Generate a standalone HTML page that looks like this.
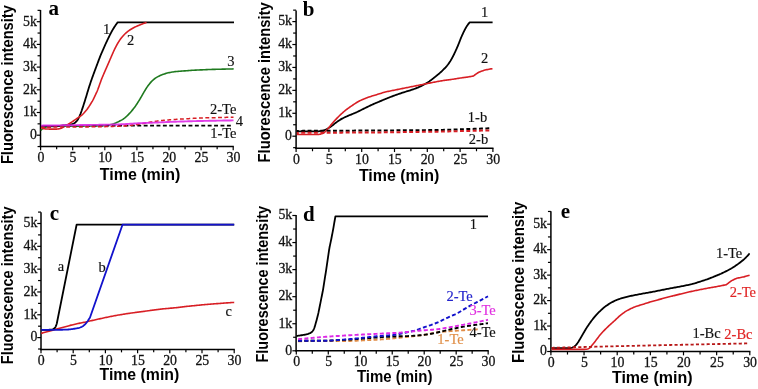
<!DOCTYPE html>
<html><head><meta charset="utf-8"><title>Fluorescence figure</title>
<style>html,body{margin:0;padding:0;background:#fff;width:758px;height:389px;overflow:hidden}svg{display:block;will-change:transform;filter:blur(0.4px)}</style>
</head><body>
<svg width="758" height="389" viewBox="0 0 758 389">
<rect width="758" height="389" fill="#fff"/>
<line x1="40.5" y1="10" x2="40.5" y2="147.15" stroke="#000" stroke-width="1.5"/>
<line x1="39.75" y1="146.4" x2="233.79999999999998" y2="146.4" stroke="#000" stroke-width="1.5"/>
<line x1="40.60" y1="146.4" x2="40.60" y2="150.15" stroke="#000" stroke-width="1.2"/>
<text transform="translate(40.90,161.50) scale(0.91,1)" x="0" y="0" font-family='"Liberation Serif", serif' font-size="15.2" fill="#111" stroke="#111" stroke-width="0.3" text-anchor="middle">0</text>
<line x1="56.65" y1="146.4" x2="56.65" y2="149.35" stroke="#000" stroke-width="1.2"/>
<line x1="72.70" y1="146.4" x2="72.70" y2="150.15" stroke="#000" stroke-width="1.2"/>
<text transform="translate(73.00,161.50) scale(0.91,1)" x="0" y="0" font-family='"Liberation Serif", serif' font-size="15.2" fill="#111" stroke="#111" stroke-width="0.3" text-anchor="middle">5</text>
<line x1="88.75" y1="146.4" x2="88.75" y2="149.35" stroke="#000" stroke-width="1.2"/>
<line x1="104.80" y1="146.4" x2="104.80" y2="150.15" stroke="#000" stroke-width="1.2"/>
<text transform="translate(105.10,161.50) scale(0.91,1)" x="0" y="0" font-family='"Liberation Serif", serif' font-size="15.2" fill="#111" stroke="#111" stroke-width="0.3" text-anchor="middle">10</text>
<line x1="120.85" y1="146.4" x2="120.85" y2="149.35" stroke="#000" stroke-width="1.2"/>
<line x1="136.90" y1="146.4" x2="136.90" y2="150.15" stroke="#000" stroke-width="1.2"/>
<text transform="translate(137.20,161.50) scale(0.91,1)" x="0" y="0" font-family='"Liberation Serif", serif' font-size="15.2" fill="#111" stroke="#111" stroke-width="0.3" text-anchor="middle">15</text>
<line x1="152.95" y1="146.4" x2="152.95" y2="149.35" stroke="#000" stroke-width="1.2"/>
<line x1="169.00" y1="146.4" x2="169.00" y2="150.15" stroke="#000" stroke-width="1.2"/>
<text transform="translate(169.30,161.50) scale(0.91,1)" x="0" y="0" font-family='"Liberation Serif", serif' font-size="15.2" fill="#111" stroke="#111" stroke-width="0.3" text-anchor="middle">20</text>
<line x1="185.05" y1="146.4" x2="185.05" y2="149.35" stroke="#000" stroke-width="1.2"/>
<line x1="201.10" y1="146.4" x2="201.10" y2="150.15" stroke="#000" stroke-width="1.2"/>
<text transform="translate(201.40,161.50) scale(0.91,1)" x="0" y="0" font-family='"Liberation Serif", serif' font-size="15.2" fill="#111" stroke="#111" stroke-width="0.3" text-anchor="middle">25</text>
<line x1="217.15" y1="146.4" x2="217.15" y2="149.35" stroke="#000" stroke-width="1.2"/>
<line x1="233.20" y1="146.4" x2="233.20" y2="150.15" stroke="#000" stroke-width="1.2"/>
<text transform="translate(233.50,161.50) scale(0.91,1)" x="0" y="0" font-family='"Liberation Serif", serif' font-size="15.2" fill="#111" stroke="#111" stroke-width="0.3" text-anchor="middle">30</text>
<line x1="37.55" y1="146.55" x2="40.5" y2="146.55" stroke="#000" stroke-width="1.2"/>
<line x1="36.75" y1="135.20" x2="40.5" y2="135.20" stroke="#000" stroke-width="1.2"/>
<text transform="translate(36.80,139.00) scale(0.91,1)" x="0" y="0" font-family='"Liberation Serif", serif' font-size="15.2" fill="#111" stroke="#111" stroke-width="0.3" text-anchor="end">0</text>
<line x1="37.55" y1="123.85" x2="40.5" y2="123.85" stroke="#000" stroke-width="1.2"/>
<line x1="36.75" y1="112.50" x2="40.5" y2="112.50" stroke="#000" stroke-width="1.2"/>
<text transform="translate(36.80,116.30) scale(0.91,1)" x="0" y="0" font-family='"Liberation Serif", serif' font-size="15.2" fill="#111" stroke="#111" stroke-width="0.3" text-anchor="end">1k</text>
<line x1="37.55" y1="101.15" x2="40.5" y2="101.15" stroke="#000" stroke-width="1.2"/>
<line x1="36.75" y1="89.80" x2="40.5" y2="89.80" stroke="#000" stroke-width="1.2"/>
<text transform="translate(36.80,93.60) scale(0.91,1)" x="0" y="0" font-family='"Liberation Serif", serif' font-size="15.2" fill="#111" stroke="#111" stroke-width="0.3" text-anchor="end">2k</text>
<line x1="37.55" y1="78.45" x2="40.5" y2="78.45" stroke="#000" stroke-width="1.2"/>
<line x1="36.75" y1="67.10" x2="40.5" y2="67.10" stroke="#000" stroke-width="1.2"/>
<text transform="translate(36.80,70.90) scale(0.91,1)" x="0" y="0" font-family='"Liberation Serif", serif' font-size="15.2" fill="#111" stroke="#111" stroke-width="0.3" text-anchor="end">3k</text>
<line x1="37.55" y1="55.75" x2="40.5" y2="55.75" stroke="#000" stroke-width="1.2"/>
<line x1="36.75" y1="44.40" x2="40.5" y2="44.40" stroke="#000" stroke-width="1.2"/>
<text transform="translate(36.80,48.20) scale(0.91,1)" x="0" y="0" font-family='"Liberation Serif", serif' font-size="15.2" fill="#111" stroke="#111" stroke-width="0.3" text-anchor="end">4k</text>
<line x1="37.55" y1="33.05" x2="40.5" y2="33.05" stroke="#000" stroke-width="1.2"/>
<line x1="36.75" y1="21.70" x2="40.5" y2="21.70" stroke="#000" stroke-width="1.2"/>
<text transform="translate(36.80,25.50) scale(0.91,1)" x="0" y="0" font-family='"Liberation Serif", serif' font-size="15.2" fill="#111" stroke="#111" stroke-width="0.3" text-anchor="end">5k</text>
<line x1="37.55" y1="10.35" x2="40.5" y2="10.35" stroke="#000" stroke-width="1.2"/>
<text x="48.5" y="15.4" font-family='"Liberation Serif", serif' font-size="21" font-weight="bold" fill="#000" text-anchor="start" >a</text>
<text x="99.8" y="180.1" font-family='"Liberation Sans", sans-serif' font-size="16.5" font-weight="bold" fill="#000" textLength="80.5" lengthAdjust="spacingAndGlyphs">Time (min)</text>
<text transform="translate(13.3,164.1) rotate(-90)" x="0" y="0" font-family='"Liberation Sans", sans-serif' font-size="16.5" font-weight="bold" fill="#000" textLength="159" lengthAdjust="spacingAndGlyphs">Fluorescence intensity</text>
<path d="M40.80,130.50 41.42,129.74 42.07,129.02 42.80,128.40 43.61,127.88 44.49,127.48 45.42,127.18 46.39,126.96 47.37,126.80 48.37,126.68 49.37,126.59 50.38,126.53 51.39,126.48 52.39,126.44 53.40,126.40 54.41,126.37 55.42,126.34 56.43,126.31 57.44,126.29 58.45,126.27 59.46,126.26 60.47,126.24 61.48,126.23 62.49,126.22 63.50,126.21 64.00,126.20" fill="none" stroke="#1f7a1f" stroke-width="1.6" stroke-linejoin="round" />
<path d="M41.00,126.00 42.00,126.00 43.00,126.00 44.01,126.00 45.01,126.00 46.01,126.00 47.01,126.00 48.02,126.00 49.02,126.00 50.02,126.00 51.02,126.00 52.03,126.00 53.03,126.00 54.03,126.00 55.03,125.99 56.04,125.98 57.04,125.96 58.04,125.92 59.04,125.86 60.04,125.79 61.03,125.70 62.03,125.60 63.03,125.51 64.03,125.41 65.02,125.30 66.02,125.19 67.01,125.08 68.01,124.95 69.00,124.82 69.98,124.66 70.96,124.46 71.91,124.21 72.83,123.88 73.72,123.47 74.56,122.97 75.35,122.40 76.08,121.75 76.74,121.03 77.35,120.26 77.90,119.43 78.40,118.58 78.86,117.70 79.29,116.79 79.68,115.88 80.06,114.95 80.43,114.02 80.78,113.08 81.13,112.14 81.46,111.19 81.80,110.25 82.12,109.30 82.45,108.35 82.77,107.40 83.09,106.45 83.40,105.50 83.71,104.55 84.01,103.59 84.31,102.63 84.61,101.68 84.91,100.72 85.21,99.76 85.50,98.81 85.80,97.85 86.09,96.89 86.38,95.93 86.67,94.97 86.95,94.01 87.24,93.05 87.53,92.09 87.82,91.13 88.11,90.17 88.40,89.21 88.70,88.25 89.01,87.30 89.31,86.35 89.63,85.39 89.94,84.44 90.25,83.49 90.57,82.54 90.88,81.59 91.20,80.64 91.53,79.69 91.86,78.74 92.20,77.80 92.54,76.86 92.89,75.92 93.23,74.97 93.57,74.03 93.92,73.09 94.27,72.15 94.61,71.21 94.96,70.27 95.31,69.33 95.66,68.39 96.01,67.45 96.36,66.51 96.71,65.57 97.06,64.64 97.42,63.70 97.77,62.76 98.12,61.82 98.47,60.88 98.83,59.94 99.18,59.01 99.54,58.07 99.90,57.13 100.27,56.20 100.65,55.27 101.03,54.35 101.43,53.43 101.83,52.51 102.24,51.60 102.64,50.68 103.04,49.76 103.44,48.84 103.84,47.92 104.24,47.00 104.64,46.08 105.04,45.17 105.46,44.25 105.87,43.34 106.30,42.43 106.73,41.53 107.16,40.62 107.59,39.72 108.02,38.81 108.46,37.91 108.90,37.01 109.35,36.11 109.79,35.22 110.24,34.32 110.70,33.43 111.16,32.54 111.64,31.66 112.12,30.78 112.62,29.91 113.13,29.05 113.65,28.19 114.18,27.34 114.72,26.50 115.28,25.67 115.85,24.84 116.43,24.03 117.01,23.21 117.60,22.40 234.00,22.40" fill="none" stroke="#000" stroke-width="1.8" stroke-linejoin="round" />
<path d="M41.50,128.20 42.47,128.42 43.45,128.62 44.43,128.77 45.42,128.89 46.42,128.97 47.42,129.02 48.42,129.06 49.42,129.10 50.43,129.13 51.43,129.15 52.43,129.16 53.43,129.16 54.44,129.15 55.44,129.13 56.44,129.09 57.43,129.02 58.42,128.91 59.40,128.74 60.35,128.50 61.29,128.18 62.19,127.80 63.08,127.35 63.96,126.87 64.83,126.38 65.69,125.87 66.55,125.35 67.41,124.83 68.26,124.30 69.11,123.77 69.96,123.23 70.80,122.69 71.64,122.13 72.47,121.58 73.30,121.01 74.12,120.44 74.95,119.88 75.78,119.31 76.60,118.74 77.43,118.18 78.26,117.62 79.09,117.05 79.92,116.49 80.74,115.91 81.53,115.31 82.29,114.67 83.02,114.00 83.72,113.28 84.38,112.54 85.04,111.78 85.68,111.01 86.32,110.24 86.94,109.46 87.54,108.66 88.13,107.84 88.69,107.02 89.23,106.18 89.77,105.33 90.30,104.48 90.83,103.63 91.35,102.77 91.87,101.91 92.38,101.05 92.86,100.17 93.33,99.29 93.78,98.39 94.21,97.49 94.64,96.58 95.07,95.68 95.50,94.77 95.92,93.86 96.34,92.95 96.76,92.04 97.16,91.12 97.54,90.19 97.91,89.26 98.26,88.32 98.61,87.38 98.95,86.44 99.28,85.49 99.62,84.55 99.96,83.60 100.29,82.66 100.63,81.71 100.97,80.77 101.32,79.83 101.68,78.90 102.05,77.97 102.44,77.04 102.83,76.12 103.22,75.19 103.62,74.27 104.02,73.35 104.42,72.43 104.82,71.51 105.22,70.59 105.62,69.67 106.02,68.76 106.43,67.84 106.83,66.92 107.23,66.00 107.63,65.08 108.04,64.16 108.44,63.24 108.84,62.33 109.24,61.41 109.64,60.48 110.03,59.56 110.43,58.64 110.83,57.72 111.23,56.80 111.62,55.88 112.02,54.96 112.43,54.04 112.83,53.12 113.24,52.21 113.65,51.29 114.07,50.38 114.49,49.47 114.93,48.57 115.38,47.67 115.83,46.78 116.30,45.89 116.77,45.01 117.26,44.14 117.77,43.27 118.28,42.41 118.81,41.56 119.35,40.72 119.92,39.89 120.50,39.08 121.10,38.27 121.71,37.48 122.35,36.71 123.01,35.96 123.68,35.22 124.38,34.50 125.10,33.80 125.83,33.12 126.58,32.46 127.35,31.82 128.14,31.20 128.94,30.60 129.76,30.03 130.59,29.48 131.44,28.95 132.31,28.44 133.18,27.95 134.07,27.49 134.97,27.05 135.88,26.64 136.80,26.24 137.72,25.85 138.65,25.47 139.58,25.09 140.51,24.71 141.44,24.34 142.37,23.97 143.31,23.61 144.24,23.26 145.19,22.91 146.13,22.57 146.60,22.40" fill="none" stroke="#d81e24" stroke-width="1.6" stroke-linejoin="round" />
<path d="M60.00,126.20 61.00,126.19 62.00,126.19 63.00,126.18 64.00,126.18 65.01,126.17 66.01,126.17 67.01,126.16 68.01,126.16 69.01,126.15 70.01,126.15 71.01,126.14 72.01,126.14 73.01,126.13 74.01,126.13 75.02,126.12 76.02,126.12 77.02,126.11 78.02,126.11 79.02,126.10 80.02,126.09 81.02,126.08 82.02,126.07 83.02,126.05 84.02,126.04 85.03,126.02 86.03,126.01 87.03,125.99 88.03,125.98 89.03,125.96 90.03,125.95 91.03,125.93 92.03,125.92 93.03,125.90 94.03,125.89 95.03,125.87 96.04,125.86 97.04,125.84 98.04,125.82 99.04,125.80 100.04,125.77 101.04,125.73 102.04,125.69 103.04,125.64 104.04,125.58 105.03,125.51 106.03,125.42 107.02,125.30 108.01,125.16 108.99,124.99 109.97,124.79 110.94,124.55 111.90,124.29 112.86,123.99 113.80,123.67 114.74,123.32 115.67,122.95 116.58,122.55 117.49,122.14 118.40,121.71 119.30,121.27 120.18,120.81 121.06,120.33 121.93,119.84 122.78,119.32 123.62,118.78 124.42,118.20 125.20,117.58 125.95,116.92 126.68,116.24 127.40,115.55 128.11,114.84 128.81,114.13 129.50,113.40 130.17,112.67 130.83,111.92 131.48,111.16 132.13,110.39 132.77,109.62 133.40,108.85 134.02,108.06 134.63,107.27 135.21,106.46 135.78,105.63 136.33,104.80 136.88,103.96 137.42,103.12 137.96,102.28 138.50,101.43 139.03,100.59 139.56,99.74 140.08,98.88 140.58,98.02 141.08,97.15 141.58,96.28 142.07,95.41 142.56,94.54 143.06,93.67 143.56,92.80 144.06,91.94 144.58,91.08 145.10,90.23 145.63,89.38 146.17,88.53 146.71,87.69 147.25,86.85 147.82,86.03 148.40,85.22 149.01,84.43 149.64,83.65 150.28,82.89 150.94,82.14 151.62,81.40 152.32,80.70 153.05,80.02 153.81,79.37 154.59,78.75 155.39,78.16 156.21,77.60 157.06,77.08 157.93,76.61 158.83,76.16 159.73,75.73 160.64,75.32 161.56,74.93 162.49,74.57 163.43,74.23 164.38,73.91 165.33,73.62 166.29,73.34 167.26,73.08 168.23,72.83 169.20,72.61 170.18,72.41 171.16,72.23 172.15,72.07 173.14,71.92 174.13,71.78 175.12,71.65 176.12,71.55 177.11,71.45 178.11,71.37 179.11,71.29 180.11,71.21 181.10,71.14 182.10,71.06 183.10,70.99 184.10,70.91 185.10,70.84 186.09,70.76 187.09,70.68 188.09,70.61 189.09,70.53 190.09,70.46 191.09,70.39 192.08,70.32 193.08,70.25 194.08,70.19 195.08,70.14 196.08,70.09 197.08,70.05 198.08,70.00 199.08,69.96 200.08,69.91 201.08,69.87 202.08,69.83 203.08,69.78 204.08,69.74 205.08,69.70 206.08,69.65 207.08,69.61 208.08,69.57 209.08,69.52 210.08,69.48 211.08,69.44 212.08,69.41 213.08,69.38 214.08,69.35 215.09,69.33 216.09,69.30 217.09,69.28 218.09,69.26 219.09,69.23 220.09,69.21 221.09,69.19 222.09,69.17 223.09,69.14 224.09,69.12 225.09,69.10 226.09,69.07 227.09,69.05 228.10,69.03 229.10,69.00 230.10,68.98 231.10,68.96 232.10,68.93 233.10,68.91 233.60,68.90" fill="none" stroke="#1f7a1f" stroke-width="1.6" stroke-linejoin="round" />
<path d="M41.00,125.70 231.00,125.60" fill="none" stroke="#000" stroke-width="1.6" stroke-dasharray="3.9,2.5" stroke-dashoffset="6.10" stroke-linejoin="round" />
<path d="M41.00,127.20 42.00,127.19 43.00,127.19 44.00,127.18 45.00,127.17 46.00,127.17 47.00,127.16 48.00,127.15 49.00,127.15 50.00,127.14 51.00,127.13 52.00,127.13 53.00,127.12 54.00,127.11 55.00,127.11 56.00,127.10 57.00,127.09 58.00,127.08 59.00,127.08 60.00,127.07 61.00,127.06 62.00,127.06 63.00,127.05 64.00,127.04 65.00,127.04 66.01,127.03 67.01,127.02 68.01,127.02 69.01,127.01 70.01,127.00 71.01,127.00 72.01,126.99 73.01,126.98 74.01,126.98 75.01,126.97 76.01,126.96 77.01,126.96 78.01,126.95 79.01,126.94 80.01,126.94 81.01,126.93 82.01,126.92 83.01,126.92 84.01,126.91 85.01,126.90 86.01,126.89 87.01,126.89 88.01,126.88 89.01,126.87 90.01,126.87 91.01,126.86 92.01,126.85 93.01,126.85 94.01,126.84 95.01,126.83 96.01,126.83 97.01,126.82 98.01,126.81 99.01,126.80 100.01,126.78 101.01,126.76 102.01,126.73 103.01,126.70 104.01,126.67 105.01,126.64 106.01,126.61 107.01,126.58 108.01,126.54 109.01,126.51 110.01,126.48 111.01,126.45 112.01,126.42 113.01,126.38 114.01,126.35 115.01,126.32 116.01,126.29 117.01,126.26 118.01,126.22 119.01,126.19 120.01,126.16 121.01,126.13 122.01,126.09 123.00,126.05 124.00,126.00 125.00,125.93 126.00,125.85 126.99,125.75 127.98,125.64 128.98,125.52 129.97,125.40 130.96,125.28 131.96,125.17 132.95,125.05 133.94,124.93 134.94,124.81 135.93,124.69 136.92,124.57 137.91,124.44 138.90,124.30 139.89,124.15 140.88,123.99 141.86,123.81 142.84,123.63 143.83,123.43 144.81,123.24 145.79,123.04 146.77,122.85 147.75,122.65 148.73,122.47 149.72,122.28 150.70,122.11 151.69,121.94 152.67,121.78 153.66,121.62 154.65,121.46 155.63,121.30 156.62,121.14 157.61,120.99 158.60,120.85 159.59,120.71 160.58,120.60 161.58,120.49 162.57,120.40 163.57,120.32 164.57,120.24 165.56,120.15 166.56,120.08 167.56,120.00 168.55,119.92 169.55,119.84 170.55,119.76 171.55,119.68 172.54,119.60 173.54,119.52 174.54,119.45 175.54,119.38 176.53,119.32 177.53,119.26 178.53,119.20 179.53,119.15 180.53,119.09 181.53,119.03 182.53,118.98 183.52,118.92 184.52,118.87 185.52,118.81 186.52,118.75 187.52,118.70 188.52,118.64 189.52,118.59 190.51,118.53 191.51,118.48 192.51,118.42 193.51,118.36 194.51,118.31 195.51,118.25 196.51,118.20 197.51,118.14 198.50,118.09 199.50,118.05 200.50,118.01 201.50,117.97 202.50,117.94 203.50,117.92 204.50,117.89 205.50,117.87 206.50,117.84 207.50,117.82 208.50,117.80 209.50,117.77 210.50,117.75 211.50,117.73 212.50,117.70 213.50,117.68 214.50,117.65 215.50,117.63 216.50,117.61 217.50,117.58 218.50,117.56 219.50,117.53 220.50,117.51 221.50,117.49 222.50,117.46 223.50,117.44 224.50,117.41 225.50,117.39 226.50,117.37 227.50,117.34 228.50,117.32 229.50,117.30 230.50,117.27 231.50,117.25 232.50,117.22 233.50,117.20" fill="none" stroke="#d81e24" stroke-width="1.5" stroke-dasharray="3.9,2.45" stroke-dashoffset="0.23" stroke-linejoin="round" />
<path d="M41.00,125.60 42.00,125.59 43.00,125.57 44.00,125.56 45.00,125.55 46.00,125.53 47.00,125.52 48.00,125.51 49.00,125.49 50.00,125.48 51.00,125.46 52.00,125.45 53.00,125.44 54.01,125.42 55.01,125.41 56.01,125.40 57.01,125.38 58.01,125.37 59.01,125.36 60.01,125.34 61.01,125.33 62.01,125.32 63.01,125.30 64.01,125.29 65.01,125.27 66.01,125.26 67.01,125.25 68.01,125.23 69.01,125.22 70.01,125.21 71.01,125.19 72.01,125.18 73.01,125.17 74.01,125.15 75.01,125.14 76.01,125.13 77.01,125.11 78.01,125.10 79.01,125.08 80.02,125.07 81.02,125.06 82.02,125.04 83.02,125.03 84.02,125.02 85.02,125.00 86.02,124.99 87.02,124.98 88.02,124.96 89.02,124.95 90.02,124.94 91.02,124.92 92.02,124.91 93.02,124.89 94.02,124.88 95.02,124.87 96.02,124.85 97.02,124.84 98.02,124.83 99.02,124.81 100.02,124.79 101.02,124.78 102.02,124.76 103.02,124.74 104.02,124.72 105.02,124.70 106.02,124.68 107.03,124.66 108.03,124.64 109.03,124.62 110.03,124.60 111.03,124.58 112.03,124.56 113.03,124.54 114.03,124.52 115.03,124.50 116.03,124.48 117.03,124.45 118.03,124.43 119.03,124.40 120.03,124.36 121.03,124.31 122.03,124.26 123.02,124.20 124.02,124.14 125.02,124.08 126.02,124.02 127.02,123.96 128.02,123.90 129.02,123.84 130.01,123.78 131.01,123.72 132.01,123.66 133.01,123.60 134.01,123.54 135.01,123.48 136.01,123.42 137.01,123.36 138.00,123.30 139.00,123.25 140.00,123.20 141.00,123.15 142.00,123.11 143.00,123.06 144.00,123.02 145.00,122.98 146.00,122.94 147.00,122.90 148.00,122.86 149.00,122.82 150.00,122.78 151.00,122.74 152.00,122.70 153.00,122.66 154.00,122.62 155.00,122.58 156.00,122.54 157.00,122.50 158.00,122.46 159.00,122.41 159.99,122.37 160.99,122.33 161.99,122.28 162.99,122.24 163.99,122.19 164.99,122.15 165.99,122.10 166.99,122.06 167.99,122.01 168.99,121.97 169.99,121.92 170.99,121.88 171.99,121.84 172.99,121.79 173.99,121.75 174.99,121.71 175.99,121.68 176.99,121.64 177.99,121.61 178.99,121.58 179.99,121.55 180.99,121.52 181.99,121.49 182.99,121.46 183.99,121.43 184.99,121.40 185.99,121.37 186.99,121.34 187.99,121.31 188.99,121.28 189.99,121.25 190.99,121.22 191.99,121.19 192.99,121.16 193.99,121.13 194.99,121.11 195.99,121.08 196.99,121.06 197.99,121.04 198.99,121.02 199.99,121.00 200.99,120.98 201.99,120.96 202.99,120.94 203.99,120.92 204.99,120.90 205.99,120.88 206.99,120.86 207.99,120.84 208.99,120.82 209.99,120.80 210.99,120.78 211.99,120.76 212.99,120.74 213.99,120.72 214.99,120.70 215.99,120.69 216.99,120.67 217.99,120.65 218.99,120.64 220.00,120.62 221.00,120.60 222.00,120.59 223.00,120.57 224.00,120.55 225.00,120.54 226.00,120.52 227.00,120.51 228.00,120.49 229.00,120.47 230.00,120.46 231.00,120.44 232.00,120.42 233.00,120.41 233.50,120.40" fill="none" stroke="#dd28e6" stroke-width="1.9" stroke-linejoin="round" stroke-opacity="0.9"/>
<text x="102.9" y="33.9" font-family='"Liberation Serif", serif' font-size="14.5" font-weight="normal" fill="#111" stroke="#111" stroke-width="0.15" text-anchor="start" >1</text>
<text x="126.9" y="44.5" font-family='"Liberation Serif", serif' font-size="14.5" font-weight="normal" fill="#111" stroke="#111" stroke-width="0.15" text-anchor="start" >2</text>
<text x="227.2" y="65.6" font-family='"Liberation Serif", serif' font-size="14.5" font-weight="normal" fill="#111" stroke="#111" stroke-width="0.15" text-anchor="start" >3</text>
<text x="210.0" y="113.6" font-family='"Liberation Serif", serif' font-size="14.5" font-weight="normal" fill="#111" stroke="#111" stroke-width="0.15" text-anchor="start" >2-Te</text>
<text x="235.8" y="125.9" font-family='"Liberation Serif", serif' font-size="14.5" font-weight="normal" fill="#111" stroke="#111" stroke-width="0.15" text-anchor="start" >4</text>
<text x="210.2" y="138.4" font-family='"Liberation Serif", serif' font-size="14.5" font-weight="normal" fill="#111" stroke="#111" stroke-width="0.15" text-anchor="start" >1-Te</text>
<line x1="296.1" y1="10.5" x2="296.1" y2="149.05" stroke="#000" stroke-width="1.5"/>
<line x1="295.35" y1="148.3" x2="493.5" y2="148.3" stroke="#000" stroke-width="1.5"/>
<line x1="296.10" y1="148.3" x2="296.10" y2="152.05" stroke="#000" stroke-width="1.2"/>
<text transform="translate(296.40,163.80) scale(0.91,1)" x="0" y="0" font-family='"Liberation Serif", serif' font-size="15.2" fill="#111" stroke="#111" stroke-width="0.3" text-anchor="middle">0</text>
<line x1="312.50" y1="148.3" x2="312.50" y2="151.25" stroke="#000" stroke-width="1.2"/>
<line x1="328.90" y1="148.3" x2="328.90" y2="152.05" stroke="#000" stroke-width="1.2"/>
<text transform="translate(329.20,163.80) scale(0.91,1)" x="0" y="0" font-family='"Liberation Serif", serif' font-size="15.2" fill="#111" stroke="#111" stroke-width="0.3" text-anchor="middle">5</text>
<line x1="345.30" y1="148.3" x2="345.30" y2="151.25" stroke="#000" stroke-width="1.2"/>
<line x1="361.70" y1="148.3" x2="361.70" y2="152.05" stroke="#000" stroke-width="1.2"/>
<text transform="translate(362.00,163.80) scale(0.91,1)" x="0" y="0" font-family='"Liberation Serif", serif' font-size="15.2" fill="#111" stroke="#111" stroke-width="0.3" text-anchor="middle">10</text>
<line x1="378.10" y1="148.3" x2="378.10" y2="151.25" stroke="#000" stroke-width="1.2"/>
<line x1="394.50" y1="148.3" x2="394.50" y2="152.05" stroke="#000" stroke-width="1.2"/>
<text transform="translate(394.80,163.80) scale(0.91,1)" x="0" y="0" font-family='"Liberation Serif", serif' font-size="15.2" fill="#111" stroke="#111" stroke-width="0.3" text-anchor="middle">15</text>
<line x1="410.90" y1="148.3" x2="410.90" y2="151.25" stroke="#000" stroke-width="1.2"/>
<line x1="427.30" y1="148.3" x2="427.30" y2="152.05" stroke="#000" stroke-width="1.2"/>
<text transform="translate(427.60,163.80) scale(0.91,1)" x="0" y="0" font-family='"Liberation Serif", serif' font-size="15.2" fill="#111" stroke="#111" stroke-width="0.3" text-anchor="middle">20</text>
<line x1="443.70" y1="148.3" x2="443.70" y2="151.25" stroke="#000" stroke-width="1.2"/>
<line x1="460.10" y1="148.3" x2="460.10" y2="152.05" stroke="#000" stroke-width="1.2"/>
<text transform="translate(460.40,163.80) scale(0.91,1)" x="0" y="0" font-family='"Liberation Serif", serif' font-size="15.2" fill="#111" stroke="#111" stroke-width="0.3" text-anchor="middle">25</text>
<line x1="476.50" y1="148.3" x2="476.50" y2="151.25" stroke="#000" stroke-width="1.2"/>
<line x1="492.90" y1="148.3" x2="492.90" y2="152.05" stroke="#000" stroke-width="1.2"/>
<text transform="translate(493.20,163.80) scale(0.91,1)" x="0" y="0" font-family='"Liberation Serif", serif' font-size="15.2" fill="#111" stroke="#111" stroke-width="0.3" text-anchor="middle">30</text>
<line x1="293.15000000000003" y1="147.66" x2="296.1" y2="147.66" stroke="#000" stroke-width="1.2"/>
<line x1="292.35" y1="136.20" x2="296.1" y2="136.20" stroke="#000" stroke-width="1.2"/>
<text transform="translate(292.00,140.00) scale(0.91,1)" x="0" y="0" font-family='"Liberation Serif", serif' font-size="15.2" fill="#111" stroke="#111" stroke-width="0.3" text-anchor="end">0</text>
<line x1="293.15000000000003" y1="124.74" x2="296.1" y2="124.74" stroke="#000" stroke-width="1.2"/>
<line x1="292.35" y1="113.28" x2="296.1" y2="113.28" stroke="#000" stroke-width="1.2"/>
<text transform="translate(292.00,117.08) scale(0.91,1)" x="0" y="0" font-family='"Liberation Serif", serif' font-size="15.2" fill="#111" stroke="#111" stroke-width="0.3" text-anchor="end">1k</text>
<line x1="293.15000000000003" y1="101.82" x2="296.1" y2="101.82" stroke="#000" stroke-width="1.2"/>
<line x1="292.35" y1="90.36" x2="296.1" y2="90.36" stroke="#000" stroke-width="1.2"/>
<text transform="translate(292.00,94.16) scale(0.91,1)" x="0" y="0" font-family='"Liberation Serif", serif' font-size="15.2" fill="#111" stroke="#111" stroke-width="0.3" text-anchor="end">2k</text>
<line x1="293.15000000000003" y1="78.90" x2="296.1" y2="78.90" stroke="#000" stroke-width="1.2"/>
<line x1="292.35" y1="67.44" x2="296.1" y2="67.44" stroke="#000" stroke-width="1.2"/>
<text transform="translate(292.00,71.24) scale(0.91,1)" x="0" y="0" font-family='"Liberation Serif", serif' font-size="15.2" fill="#111" stroke="#111" stroke-width="0.3" text-anchor="end">3k</text>
<line x1="293.15000000000003" y1="55.98" x2="296.1" y2="55.98" stroke="#000" stroke-width="1.2"/>
<line x1="292.35" y1="44.52" x2="296.1" y2="44.52" stroke="#000" stroke-width="1.2"/>
<text transform="translate(292.00,48.32) scale(0.91,1)" x="0" y="0" font-family='"Liberation Serif", serif' font-size="15.2" fill="#111" stroke="#111" stroke-width="0.3" text-anchor="end">4k</text>
<line x1="293.15000000000003" y1="33.06" x2="296.1" y2="33.06" stroke="#000" stroke-width="1.2"/>
<line x1="292.35" y1="21.60" x2="296.1" y2="21.60" stroke="#000" stroke-width="1.2"/>
<text transform="translate(292.00,25.40) scale(0.91,1)" x="0" y="0" font-family='"Liberation Serif", serif' font-size="15.2" fill="#111" stroke="#111" stroke-width="0.3" text-anchor="end">5k</text>
<line x1="293.15000000000003" y1="10.14" x2="296.1" y2="10.14" stroke="#000" stroke-width="1.2"/>
<text x="302.8" y="16.2" font-family='"Liberation Serif", serif' font-size="21" font-weight="bold" fill="#000" text-anchor="start" >b</text>
<text x="358.9" y="181.1" font-family='"Liberation Sans", sans-serif' font-size="16.5" font-weight="bold" fill="#000" textLength="80.4" lengthAdjust="spacingAndGlyphs">Time (min)</text>
<text transform="translate(270.0,162.4) rotate(-90)" x="0" y="0" font-family='"Liberation Sans", sans-serif' font-size="16.5" font-weight="bold" fill="#000" textLength="160.1" lengthAdjust="spacingAndGlyphs">Fluorescence intensity</text>
<path d="M296.80,131.40 297.80,131.40 298.80,131.40 299.80,131.40 300.80,131.40 301.80,131.40 302.80,131.40 303.80,131.40 304.81,131.40 305.81,131.40 306.81,131.40 307.81,131.40 308.81,131.40 309.81,131.40 310.81,131.40 311.81,131.40 312.81,131.40 313.81,131.40 314.81,131.39 315.81,131.38 316.81,131.36 317.81,131.32 318.80,131.26 319.79,131.17 320.77,131.04 321.74,130.86 322.70,130.63 323.65,130.36 324.58,130.03 325.50,129.66 326.40,129.25 327.29,128.80 328.16,128.32 329.02,127.81 329.86,127.27 330.68,126.72 331.49,126.14 332.28,125.53 333.07,124.92 333.85,124.30 334.63,123.67 335.42,123.06 336.21,122.45 337.01,121.85 337.82,121.27 338.65,120.71 339.48,120.17 340.33,119.64 341.19,119.13 342.06,118.65 342.95,118.18 343.84,117.73 344.74,117.30 345.64,116.87 346.55,116.46 347.47,116.06 348.39,115.67 349.32,115.29 350.24,114.91 351.17,114.54 352.10,114.17 353.03,113.79 353.95,113.41 354.87,113.02 355.79,112.62 356.70,112.21 357.60,111.79 358.50,111.35 359.40,110.91 360.29,110.46 361.19,110.01 362.08,109.56 362.98,109.12 363.87,108.67 364.77,108.22 365.66,107.78 366.56,107.33 367.46,106.89 368.36,106.45 369.26,106.02 370.16,105.59 371.07,105.17 371.98,104.75 372.89,104.34 373.81,103.94 374.72,103.54 375.64,103.14 376.56,102.75 377.49,102.36 378.41,101.97 379.33,101.58 380.25,101.19 381.18,100.81 382.10,100.42 383.02,100.04 383.95,99.65 384.87,99.27 385.80,98.89 386.73,98.52 387.65,98.14 388.58,97.77 389.51,97.40 390.44,97.03 391.37,96.66 392.30,96.30 393.24,95.94 394.18,95.59 395.11,95.25 396.06,94.91 397.00,94.58 397.94,94.25 398.89,93.92 399.84,93.60 400.78,93.28 401.73,92.96 402.68,92.65 403.64,92.34 404.59,92.04 405.55,91.75 406.50,91.45 407.46,91.16 408.42,90.87 409.37,90.57 410.33,90.27 411.28,89.97 412.23,89.65 413.18,89.33 414.12,89.00 415.06,88.66 415.99,88.30 416.92,87.94 417.85,87.56 418.76,87.16 419.67,86.75 420.58,86.32 421.47,85.88 422.37,85.43 423.25,84.96 424.13,84.49 425.01,84.01 425.88,83.51 426.74,83.00 427.59,82.48 428.43,81.94 429.26,81.39 430.07,80.81 430.88,80.22 431.67,79.62 432.46,79.00 433.25,78.38 434.03,77.76 434.81,77.13 435.59,76.50 436.36,75.87 437.13,75.24 437.91,74.60 438.67,73.96 439.43,73.31 440.19,72.65 440.93,71.99 441.67,71.31 442.39,70.62 443.11,69.92 443.81,69.22 444.51,68.50 445.20,67.78 445.88,67.04 446.54,66.29 447.18,65.53 447.80,64.75 448.40,63.95 448.98,63.14 449.54,62.32 450.09,61.49 450.63,60.64 451.14,59.79 451.64,58.92 452.12,58.05 452.58,57.16 453.04,56.27 453.48,55.38 453.92,54.48 454.35,53.58 454.78,52.67 455.20,51.77 455.62,50.86 456.04,49.95 456.45,49.04 456.86,48.12 457.26,47.21 457.66,46.29 458.05,45.37 458.43,44.44 458.80,43.52 459.17,42.59 459.53,41.65 459.89,40.72 460.24,39.78 460.61,38.85 460.98,37.93 461.37,37.00 461.77,36.09 462.17,35.17 462.59,34.27 463.02,33.36 463.45,32.46 463.89,31.56 464.34,30.67 464.79,29.78 465.26,28.89 465.74,28.01 466.23,27.15 466.75,26.30 467.29,25.47 467.86,24.65 468.46,23.86 469.07,23.08 469.70,22.30 492.60,22.30" fill="none" stroke="#000" stroke-width="1.8" stroke-linejoin="round" />
<path d="M296.80,134.50 297.80,134.50 298.80,134.50 299.81,134.50 300.81,134.50 301.81,134.50 302.81,134.50 303.81,134.50 304.82,134.50 305.82,134.50 306.82,134.50 307.82,134.50 308.82,134.50 309.83,134.50 310.83,134.50 311.83,134.50 312.83,134.50 313.83,134.50 314.84,134.49 315.84,134.49 316.84,134.47 317.83,134.43 318.82,134.37 319.80,134.27 320.75,134.10 321.67,133.85 322.56,133.50 323.40,133.05 324.20,132.52 324.95,131.90 325.67,131.23 326.35,130.51 327.00,129.76 327.64,128.99 328.27,128.22 328.89,127.44 329.53,126.66 330.17,125.89 330.81,125.13 331.46,124.36 332.12,123.60 332.77,122.85 333.43,122.09 334.09,121.34 334.76,120.59 335.43,119.85 336.12,119.12 336.81,118.39 337.50,117.67 338.20,116.96 338.91,116.25 339.62,115.55 340.34,114.85 341.07,114.16 341.81,113.49 342.56,112.82 343.31,112.15 344.07,111.50 344.83,110.86 345.61,110.23 346.40,109.62 347.20,109.01 348.01,108.42 348.82,107.84 349.64,107.26 350.46,106.68 351.28,106.11 352.10,105.54 352.93,104.97 353.76,104.41 354.59,103.85 355.43,103.31 356.28,102.79 357.14,102.27 358.01,101.78 358.89,101.30 359.78,100.83 360.67,100.39 361.58,99.96 362.49,99.55 363.41,99.16 364.34,98.78 365.27,98.41 366.20,98.05 367.14,97.70 368.08,97.36 369.03,97.03 369.98,96.70 370.93,96.39 371.88,96.09 372.84,95.80 373.80,95.52 374.76,95.23 375.72,94.94 376.68,94.65 377.63,94.35 378.59,94.05 379.54,93.75 380.50,93.44 381.46,93.14 382.41,92.85 383.37,92.56 384.34,92.29 385.30,92.04 386.28,91.80 387.25,91.58 388.23,91.37 389.21,91.16 390.19,90.96 391.17,90.77 392.16,90.57 393.14,90.37 394.12,90.18 395.10,89.98 396.09,89.78 397.07,89.59 398.05,89.39 399.04,89.19 400.02,89.00 401.00,88.80 401.98,88.60 402.97,88.41 403.95,88.21 404.93,88.01 405.91,87.82 406.90,87.62 407.88,87.42 408.86,87.23 409.84,87.03 410.83,86.83 411.81,86.64 412.79,86.44 413.77,86.25 414.76,86.05 415.74,85.85 416.72,85.66 417.70,85.46 418.69,85.26 419.67,85.07 420.65,84.87 421.63,84.67 422.62,84.48 423.60,84.28 424.58,84.08 425.57,83.89 426.55,83.69 427.53,83.49 428.51,83.30 429.50,83.10 430.48,82.91 431.46,82.71 432.45,82.52 433.43,82.33 434.41,82.13 435.39,81.94 436.38,81.75 437.36,81.56 438.35,81.37 439.33,81.19 440.32,81.01 441.31,80.85 442.29,80.69 443.29,80.55 444.28,80.41 445.27,80.27 446.26,80.14 447.26,80.01 448.25,79.88 449.24,79.75 450.24,79.61 451.23,79.48 452.22,79.33 453.21,79.18 454.20,79.03 455.19,78.87 456.18,78.71 457.17,78.55 458.16,78.39 459.15,78.23 460.14,78.08 461.13,77.93 462.12,77.79 463.11,77.65 464.11,77.52 465.10,77.38 466.09,77.25 467.08,77.10 468.07,76.95 469.06,76.79 470.05,76.62 471.04,76.45 472.02,76.27 473.01,76.09 473.50,76.00 474.29,75.36 475.08,74.74 475.89,74.14 476.72,73.56 477.56,73.02 478.44,72.52 479.33,72.06 480.25,71.65 481.18,71.28 482.13,70.94 483.09,70.64 484.06,70.35 485.04,70.09 486.02,69.84 487.01,69.61 488.00,69.41 488.99,69.22 489.99,69.05 490.99,68.90 492.00,68.77 492.50,68.70" fill="none" stroke="#d81e24" stroke-width="1.6" stroke-linejoin="round" />
<path d="M296.80,130.90 297.80,130.90 298.80,130.89 299.80,130.89 300.80,130.88 301.81,130.88 302.81,130.87 303.81,130.87 304.81,130.86 305.81,130.86 306.81,130.85 307.81,130.85 308.81,130.84 309.82,130.84 310.82,130.83 311.82,130.83 312.82,130.82 313.82,130.82 314.82,130.81 315.82,130.81 316.82,130.80 317.82,130.80 318.83,130.79 319.83,130.79 320.83,130.78 321.83,130.78 322.83,130.77 323.83,130.77 324.83,130.77 325.83,130.76 326.84,130.76 327.84,130.75 328.84,130.75 329.84,130.74 330.84,130.74 331.84,130.73 332.84,130.73 333.84,130.72 334.85,130.72 335.85,130.71 336.85,130.71 337.85,130.70 338.85,130.70 339.85,130.69 340.85,130.69 341.85,130.68 342.85,130.68 343.86,130.67 344.86,130.67 345.86,130.66 346.86,130.66 347.86,130.65 348.86,130.65 349.86,130.64 350.86,130.64 351.87,130.64 352.87,130.63 353.87,130.63 354.87,130.62 355.87,130.62 356.87,130.61 357.87,130.61 358.87,130.60 359.87,130.60 360.88,130.59 361.88,130.59 362.88,130.58 363.88,130.58 364.88,130.57 365.88,130.57 366.88,130.56 367.88,130.56 368.89,130.55 369.89,130.55 370.89,130.54 371.89,130.54 372.89,130.53 373.89,130.53 374.89,130.52 375.89,130.52 376.90,130.51 377.90,130.51 378.90,130.50 379.90,130.50 380.90,130.49 381.90,130.48 382.90,130.48 383.90,130.47 384.90,130.46 385.91,130.45 386.91,130.44 387.91,130.43 388.91,130.43 389.91,130.42 390.91,130.41 391.91,130.40 392.91,130.39 393.92,130.38 394.92,130.38 395.92,130.37 396.92,130.36 397.92,130.35 398.92,130.34 399.92,130.33 400.92,130.33 401.92,130.32 402.93,130.31 403.93,130.30 404.93,130.29 405.93,130.28 406.93,130.28 407.93,130.27 408.93,130.26 409.93,130.25 410.93,130.24 411.94,130.23 412.94,130.23 413.94,130.22 414.94,130.21 415.94,130.20 416.94,130.19 417.94,130.18 418.94,130.18 419.95,130.17 420.95,130.16 421.95,130.15 422.95,130.14 423.95,130.13 424.95,130.13 425.95,130.12 426.95,130.11 427.95,130.10 428.96,130.09 429.96,130.08 430.96,130.08 431.96,130.07 432.96,130.06 433.96,130.05 434.96,130.04 435.96,130.03 436.97,130.02 437.97,130.01 438.97,130.00 439.97,129.98 440.97,129.96 441.97,129.93 442.97,129.90 443.97,129.86 444.97,129.83 445.97,129.80 446.97,129.76 447.97,129.73 448.97,129.69 449.98,129.66 450.98,129.63 451.98,129.59 452.98,129.56 453.98,129.52 454.98,129.49 455.98,129.46 456.98,129.42 457.98,129.39 458.98,129.35 459.98,129.32 460.98,129.29 461.98,129.25 462.98,129.22 463.98,129.18 464.98,129.15 465.99,129.12 466.99,129.08 467.99,129.05 468.99,129.01 469.99,128.98 470.99,128.95 471.99,128.91 472.99,128.88 473.99,128.84 474.99,128.81 475.99,128.78 476.99,128.74 477.99,128.71 478.99,128.67 479.99,128.64 480.99,128.61 482.00,128.57 483.00,128.54 484.00,128.50 485.00,128.47 486.00,128.44 487.00,128.40 488.00,128.37 489.00,128.33 490.00,128.30" fill="none" stroke="#000" stroke-width="2.0" stroke-dasharray="3.9,2.45" stroke-dashoffset="1.89" stroke-linejoin="round" />
<path d="M296.80,132.90 297.80,132.89 298.80,132.89 299.80,132.88 300.80,132.88 301.81,132.87 302.81,132.86 303.81,132.86 304.81,132.85 305.81,132.85 306.81,132.84 307.81,132.83 308.81,132.83 309.81,132.82 310.82,132.82 311.82,132.81 312.82,132.80 313.82,132.80 314.82,132.79 315.82,132.79 316.82,132.78 317.82,132.77 318.82,132.77 319.83,132.76 320.83,132.76 321.83,132.75 322.83,132.74 323.83,132.74 324.83,132.73 325.83,132.73 326.83,132.72 327.83,132.71 328.84,132.71 329.84,132.70 330.84,132.70 331.84,132.69 332.84,132.68 333.84,132.68 334.84,132.67 335.84,132.67 336.85,132.66 337.85,132.65 338.85,132.65 339.85,132.64 340.85,132.64 341.85,132.63 342.85,132.62 343.85,132.62 344.85,132.61 345.86,132.61 346.86,132.60 347.86,132.59 348.86,132.59 349.86,132.58 350.86,132.58 351.86,132.57 352.86,132.56 353.86,132.56 354.87,132.55 355.87,132.55 356.87,132.54 357.87,132.53 358.87,132.53 359.87,132.52 360.87,132.51 361.87,132.51 362.87,132.50 363.88,132.50 364.88,132.49 365.88,132.48 366.88,132.48 367.88,132.47 368.88,132.47 369.88,132.46 370.88,132.45 371.88,132.45 372.89,132.44 373.89,132.44 374.89,132.43 375.89,132.42 376.89,132.42 377.89,132.41 378.89,132.40 379.89,132.40 380.89,132.38 381.90,132.37 382.90,132.36 383.90,132.35 384.90,132.33 385.90,132.32 386.90,132.31 387.90,132.29 388.90,132.28 389.90,132.27 390.91,132.25 391.91,132.24 392.91,132.23 393.91,132.21 394.91,132.20 395.91,132.19 396.91,132.17 397.91,132.16 398.91,132.15 399.91,132.13 400.92,132.12 401.92,132.11 402.92,132.09 403.92,132.08 404.92,132.07 405.92,132.05 406.92,132.04 407.92,132.03 408.92,132.01 409.93,132.00 410.93,131.99 411.93,131.97 412.93,131.96 413.93,131.95 414.93,131.93 415.93,131.92 416.93,131.91 417.93,131.89 418.93,131.88 419.94,131.87 420.94,131.85 421.94,131.84 422.94,131.83 423.94,131.81 424.94,131.80 425.94,131.79 426.94,131.77 427.94,131.76 428.95,131.75 429.95,131.73 430.95,131.72 431.95,131.71 432.95,131.69 433.95,131.68 434.95,131.67 435.95,131.65 436.95,131.64 437.95,131.63 438.96,131.61 439.96,131.59 440.96,131.57 441.96,131.55 442.96,131.53 443.96,131.50 444.96,131.48 445.96,131.46 446.96,131.43 447.96,131.41 448.96,131.38 449.97,131.36 450.97,131.34 451.97,131.31 452.97,131.29 453.97,131.26 454.97,131.24 455.97,131.22 456.97,131.19 457.97,131.17 458.97,131.14 459.97,131.12 460.98,131.10 461.98,131.07 462.98,131.05 463.98,131.02 464.98,131.00 465.98,130.98 466.98,130.95 467.98,130.93 468.98,130.90 469.98,130.88 470.98,130.86 471.98,130.83 472.99,130.81 473.99,130.78 474.99,130.76 475.99,130.74 476.99,130.71 477.99,130.69 478.99,130.66 479.99,130.64 480.99,130.62 481.99,130.59 482.99,130.57 483.99,130.54 485.00,130.52 486.00,130.50 487.00,130.47 488.00,130.45 489.00,130.42 490.00,130.40" fill="none" stroke="#d81e24" stroke-width="2.0" stroke-dasharray="3.9,2.45" stroke-dashoffset="1.89" stroke-linejoin="round" />
<text x="480.9" y="16.9" font-family='"Liberation Serif", serif' font-size="14.5" font-weight="normal" fill="#111" stroke="#111" stroke-width="0.15" text-anchor="start" >1</text>
<text x="480.9" y="62.7" font-family='"Liberation Serif", serif' font-size="14.5" font-weight="normal" fill="#111" stroke="#111" stroke-width="0.15" text-anchor="start" >2</text>
<text x="467.8" y="121.8" font-family='"Liberation Serif", serif' font-size="14.5" font-weight="normal" fill="#111" stroke="#111" stroke-width="0.15" text-anchor="start" >1-b</text>
<text x="468.8" y="143.9" font-family='"Liberation Serif", serif' font-size="14.5" font-weight="normal" fill="#111" stroke="#111" stroke-width="0.15" text-anchor="start" >2-b</text>
<line x1="41.0" y1="212.3" x2="41.0" y2="350.15" stroke="#000" stroke-width="1.5"/>
<line x1="40.25" y1="349.4" x2="234.8" y2="349.4" stroke="#000" stroke-width="1.5"/>
<line x1="41.00" y1="349.4" x2="41.00" y2="353.15" stroke="#000" stroke-width="1.2"/>
<text transform="translate(41.30,364.80) scale(0.91,1)" x="0" y="0" font-family='"Liberation Serif", serif' font-size="15.2" fill="#111" stroke="#111" stroke-width="0.3" text-anchor="middle">0</text>
<line x1="57.10" y1="349.4" x2="57.10" y2="352.34999999999997" stroke="#000" stroke-width="1.2"/>
<line x1="73.20" y1="349.4" x2="73.20" y2="353.15" stroke="#000" stroke-width="1.2"/>
<text transform="translate(73.50,364.80) scale(0.91,1)" x="0" y="0" font-family='"Liberation Serif", serif' font-size="15.2" fill="#111" stroke="#111" stroke-width="0.3" text-anchor="middle">5</text>
<line x1="89.30" y1="349.4" x2="89.30" y2="352.34999999999997" stroke="#000" stroke-width="1.2"/>
<line x1="105.40" y1="349.4" x2="105.40" y2="353.15" stroke="#000" stroke-width="1.2"/>
<text transform="translate(105.70,364.80) scale(0.91,1)" x="0" y="0" font-family='"Liberation Serif", serif' font-size="15.2" fill="#111" stroke="#111" stroke-width="0.3" text-anchor="middle">10</text>
<line x1="121.50" y1="349.4" x2="121.50" y2="352.34999999999997" stroke="#000" stroke-width="1.2"/>
<line x1="137.60" y1="349.4" x2="137.60" y2="353.15" stroke="#000" stroke-width="1.2"/>
<text transform="translate(137.90,364.80) scale(0.91,1)" x="0" y="0" font-family='"Liberation Serif", serif' font-size="15.2" fill="#111" stroke="#111" stroke-width="0.3" text-anchor="middle">15</text>
<line x1="153.70" y1="349.4" x2="153.70" y2="352.34999999999997" stroke="#000" stroke-width="1.2"/>
<line x1="169.80" y1="349.4" x2="169.80" y2="353.15" stroke="#000" stroke-width="1.2"/>
<text transform="translate(170.10,364.80) scale(0.91,1)" x="0" y="0" font-family='"Liberation Serif", serif' font-size="15.2" fill="#111" stroke="#111" stroke-width="0.3" text-anchor="middle">20</text>
<line x1="185.90" y1="349.4" x2="185.90" y2="352.34999999999997" stroke="#000" stroke-width="1.2"/>
<line x1="202.00" y1="349.4" x2="202.00" y2="353.15" stroke="#000" stroke-width="1.2"/>
<text transform="translate(202.30,364.80) scale(0.91,1)" x="0" y="0" font-family='"Liberation Serif", serif' font-size="15.2" fill="#111" stroke="#111" stroke-width="0.3" text-anchor="middle">25</text>
<line x1="218.10" y1="349.4" x2="218.10" y2="352.34999999999997" stroke="#000" stroke-width="1.2"/>
<line x1="234.20" y1="349.4" x2="234.20" y2="353.15" stroke="#000" stroke-width="1.2"/>
<text transform="translate(234.50,364.80) scale(0.91,1)" x="0" y="0" font-family='"Liberation Serif", serif' font-size="15.2" fill="#111" stroke="#111" stroke-width="0.3" text-anchor="middle">30</text>
<line x1="38.05" y1="349.01" x2="41.0" y2="349.01" stroke="#000" stroke-width="1.2"/>
<line x1="37.25" y1="337.60" x2="41.0" y2="337.60" stroke="#000" stroke-width="1.2"/>
<text transform="translate(37.30,341.40) scale(0.91,1)" x="0" y="0" font-family='"Liberation Serif", serif' font-size="15.2" fill="#111" stroke="#111" stroke-width="0.3" text-anchor="end">0</text>
<line x1="38.05" y1="326.19" x2="41.0" y2="326.19" stroke="#000" stroke-width="1.2"/>
<line x1="37.25" y1="314.78" x2="41.0" y2="314.78" stroke="#000" stroke-width="1.2"/>
<text transform="translate(37.30,318.58) scale(0.91,1)" x="0" y="0" font-family='"Liberation Serif", serif' font-size="15.2" fill="#111" stroke="#111" stroke-width="0.3" text-anchor="end">1k</text>
<line x1="38.05" y1="303.37" x2="41.0" y2="303.37" stroke="#000" stroke-width="1.2"/>
<line x1="37.25" y1="291.96" x2="41.0" y2="291.96" stroke="#000" stroke-width="1.2"/>
<text transform="translate(37.30,295.76) scale(0.91,1)" x="0" y="0" font-family='"Liberation Serif", serif' font-size="15.2" fill="#111" stroke="#111" stroke-width="0.3" text-anchor="end">2k</text>
<line x1="38.05" y1="280.55" x2="41.0" y2="280.55" stroke="#000" stroke-width="1.2"/>
<line x1="37.25" y1="269.14" x2="41.0" y2="269.14" stroke="#000" stroke-width="1.2"/>
<text transform="translate(37.30,272.94) scale(0.91,1)" x="0" y="0" font-family='"Liberation Serif", serif' font-size="15.2" fill="#111" stroke="#111" stroke-width="0.3" text-anchor="end">3k</text>
<line x1="38.05" y1="257.73" x2="41.0" y2="257.73" stroke="#000" stroke-width="1.2"/>
<line x1="37.25" y1="246.32" x2="41.0" y2="246.32" stroke="#000" stroke-width="1.2"/>
<text transform="translate(37.30,250.12) scale(0.91,1)" x="0" y="0" font-family='"Liberation Serif", serif' font-size="15.2" fill="#111" stroke="#111" stroke-width="0.3" text-anchor="end">4k</text>
<line x1="38.05" y1="234.91" x2="41.0" y2="234.91" stroke="#000" stroke-width="1.2"/>
<line x1="37.25" y1="223.50" x2="41.0" y2="223.50" stroke="#000" stroke-width="1.2"/>
<text transform="translate(37.30,227.30) scale(0.91,1)" x="0" y="0" font-family='"Liberation Serif", serif' font-size="15.2" fill="#111" stroke="#111" stroke-width="0.3" text-anchor="end">5k</text>
<line x1="38.05" y1="212.09" x2="41.0" y2="212.09" stroke="#000" stroke-width="1.2"/>
<text x="49.8" y="219.7" font-family='"Liberation Serif", serif' font-size="21" font-weight="bold" fill="#000" text-anchor="start" >c</text>
<text x="99.5" y="379.9" font-family='"Liberation Sans", sans-serif' font-size="16.5" font-weight="bold" fill="#000" textLength="79.8" lengthAdjust="spacingAndGlyphs">Time (min)</text>
<text transform="translate(12.9,364.2) rotate(-90)" x="0" y="0" font-family='"Liberation Sans", sans-serif' font-size="16.5" font-weight="bold" fill="#000" textLength="157.7" lengthAdjust="spacingAndGlyphs">Fluorescence intensity</text>
<path d="M41.20,333.40 42.16,333.12 43.13,332.85 44.09,332.57 45.05,332.30 46.02,332.02 46.98,331.75 47.95,331.47 48.91,331.20 49.87,330.93 50.84,330.66 51.81,330.39 52.77,330.13 53.74,329.87 54.71,329.60 55.67,329.34 56.64,329.08 57.61,328.81 58.57,328.55 59.54,328.29 60.51,328.02 61.48,327.76 62.44,327.49 63.41,327.23 64.38,326.96 65.34,326.70 66.31,326.43 67.27,326.17 68.24,325.91 69.21,325.65 70.18,325.39 71.15,325.15 72.12,324.91 73.10,324.68 74.08,324.45 75.05,324.23 76.03,324.01 77.01,323.79 77.98,323.57 78.96,323.35 79.94,323.14 80.92,322.94 81.91,322.75 82.89,322.55 83.87,322.36 84.86,322.16 85.84,321.95 86.81,321.74 87.79,321.52 88.77,321.29 89.75,321.06 90.72,320.84 91.70,320.61 92.67,320.38 93.65,320.16 94.63,319.93 95.60,319.71 96.58,319.49 97.56,319.28 98.54,319.07 99.52,318.85 100.50,318.64 101.48,318.43 102.46,318.22 103.44,318.01 104.42,317.80 105.40,317.59 106.38,317.39 107.36,317.18 108.34,316.98 109.32,316.77 110.30,316.57 111.29,316.37 112.27,316.17 113.25,315.97 114.23,315.78 115.22,315.59 116.21,315.42 117.19,315.25 118.18,315.08 119.17,314.92 120.16,314.75 121.15,314.59 122.14,314.43 123.13,314.27 124.11,314.11 125.10,313.95 126.09,313.79 127.08,313.64 128.08,313.49 129.07,313.35 130.06,313.22 131.05,313.08 132.05,312.95 133.04,312.81 134.03,312.68 135.03,312.55 136.02,312.41 137.01,312.28 138.01,312.15 139.00,312.01 139.99,311.88 140.99,311.75 141.98,311.61 142.97,311.48 143.97,311.35 144.96,311.21 145.95,311.08 146.95,310.95 147.94,310.81 148.93,310.68 149.93,310.55 150.92,310.41 151.91,310.28 152.91,310.15 153.90,310.02 154.89,309.88 155.89,309.75 156.88,309.62 157.87,309.49 158.87,309.36 159.86,309.23 160.86,309.11 161.85,309.00 162.85,308.89 163.85,308.80 164.84,308.70 165.84,308.61 166.84,308.53 167.84,308.44 168.84,308.35 169.83,308.26 170.83,308.17 171.83,308.08 172.83,307.99 173.83,307.89 174.82,307.79 175.82,307.69 176.82,307.58 177.81,307.46 178.81,307.35 179.80,307.23 180.80,307.11 181.79,306.99 182.79,306.88 183.78,306.76 184.78,306.64 185.77,306.52 186.77,306.41 187.77,306.30 188.76,306.19 189.76,306.08 190.76,305.98 191.75,305.88 192.75,305.78 193.75,305.69 194.74,305.59 195.74,305.49 196.74,305.39 197.74,305.30 198.73,305.20 199.73,305.10 200.73,305.00 201.73,304.91 202.72,304.81 203.72,304.71 204.72,304.62 205.72,304.52 206.72,304.43 207.71,304.35 208.71,304.27 209.71,304.19 210.71,304.11 211.71,304.04 212.71,303.96 213.71,303.88 214.71,303.81 215.71,303.73 216.71,303.66 217.71,303.58 218.71,303.51 219.70,303.43 220.70,303.36 221.70,303.28 222.70,303.20 223.70,303.13 224.70,303.06 225.70,302.98 226.70,302.91 227.70,302.84 228.70,302.78 229.70,302.71 230.70,302.64 231.70,302.57 232.70,302.50 233.70,302.43 234.20,302.40" fill="none" stroke="#d81e24" stroke-width="1.6" stroke-linejoin="round" />
<path d="M41.30,329.80 42.32,329.80 43.34,329.80 44.37,329.80 45.39,329.80 46.41,329.80 47.43,329.80 48.45,329.79 49.47,329.77 50.48,329.73 51.47,329.62 52.42,329.42 53.31,329.09 54.10,328.61 54.77,327.98 55.33,327.21 55.78,326.35 56.16,325.43 56.49,324.47 56.80,323.50 76.60,224.70 234.20,224.70" fill="none" stroke="#000" stroke-width="1.8" stroke-linejoin="round" />
<path d="M41.30,329.80 42.30,329.80 43.30,329.80 44.30,329.80 45.30,329.80 46.30,329.80 47.30,329.80 48.30,329.80 49.30,329.80 50.30,329.80 51.31,329.80 52.31,329.80 53.31,329.80 54.31,329.80 55.31,329.80 56.31,329.80 57.31,329.80 58.31,329.79 59.31,329.79 60.31,329.77 61.31,329.75 62.31,329.73 63.31,329.70 64.31,329.67 65.31,329.64 66.31,329.61 67.31,329.57 68.31,329.52 69.30,329.45 70.30,329.35 71.29,329.22 72.27,329.07 73.26,328.91 74.25,328.75 75.23,328.58 76.22,328.41 77.20,328.24 78.18,328.04 79.14,327.80 80.09,327.51 81.01,327.16 81.89,326.73 82.73,326.22 83.53,325.65 84.28,325.02 85.00,324.33 85.68,323.61 86.32,322.85 86.94,322.06 87.53,321.26 88.10,320.44 88.65,319.61 89.19,318.77 89.73,317.92 90.00,317.50 122.50,224.70 234.20,224.70" fill="none" stroke="#1212cc" stroke-width="1.8" stroke-linejoin="round" />
<text x="57.8" y="270.9" font-family='"Liberation Serif", serif' font-size="14.5" font-weight="normal" fill="#111" stroke="#111" stroke-width="0.15" text-anchor="start" >a</text>
<text x="98.4" y="271.6" font-family='"Liberation Serif", serif' font-size="14.5" font-weight="normal" fill="#111" stroke="#111" stroke-width="0.15" text-anchor="start" >b</text>
<text x="225.4" y="315.9" font-family='"Liberation Serif", serif' font-size="14.5" font-weight="normal" fill="#111" stroke="#111" stroke-width="0.15" text-anchor="start" >c</text>
<line x1="296.1" y1="214.9" x2="296.1" y2="351.55" stroke="#000" stroke-width="1.5"/>
<line x1="295.35" y1="350.8" x2="488.75" y2="350.8" stroke="#000" stroke-width="1.5"/>
<line x1="296.30" y1="350.8" x2="296.30" y2="354.55" stroke="#000" stroke-width="1.2"/>
<text transform="translate(296.60,365.80) scale(0.91,1)" x="0" y="0" font-family='"Liberation Serif", serif' font-size="15.2" fill="#111" stroke="#111" stroke-width="0.3" text-anchor="middle">0</text>
<line x1="312.29" y1="350.8" x2="312.29" y2="353.75" stroke="#000" stroke-width="1.2"/>
<line x1="328.28" y1="350.8" x2="328.28" y2="354.55" stroke="#000" stroke-width="1.2"/>
<text transform="translate(328.58,365.80) scale(0.91,1)" x="0" y="0" font-family='"Liberation Serif", serif' font-size="15.2" fill="#111" stroke="#111" stroke-width="0.3" text-anchor="middle">5</text>
<line x1="344.26" y1="350.8" x2="344.26" y2="353.75" stroke="#000" stroke-width="1.2"/>
<line x1="360.25" y1="350.8" x2="360.25" y2="354.55" stroke="#000" stroke-width="1.2"/>
<text transform="translate(360.55,365.80) scale(0.91,1)" x="0" y="0" font-family='"Liberation Serif", serif' font-size="15.2" fill="#111" stroke="#111" stroke-width="0.3" text-anchor="middle">10</text>
<line x1="376.24" y1="350.8" x2="376.24" y2="353.75" stroke="#000" stroke-width="1.2"/>
<line x1="392.23" y1="350.8" x2="392.23" y2="354.55" stroke="#000" stroke-width="1.2"/>
<text transform="translate(392.53,365.80) scale(0.91,1)" x="0" y="0" font-family='"Liberation Serif", serif' font-size="15.2" fill="#111" stroke="#111" stroke-width="0.3" text-anchor="middle">15</text>
<line x1="408.21" y1="350.8" x2="408.21" y2="353.75" stroke="#000" stroke-width="1.2"/>
<line x1="424.20" y1="350.8" x2="424.20" y2="354.55" stroke="#000" stroke-width="1.2"/>
<text transform="translate(424.50,365.80) scale(0.91,1)" x="0" y="0" font-family='"Liberation Serif", serif' font-size="15.2" fill="#111" stroke="#111" stroke-width="0.3" text-anchor="middle">20</text>
<line x1="440.19" y1="350.8" x2="440.19" y2="353.75" stroke="#000" stroke-width="1.2"/>
<line x1="456.18" y1="350.8" x2="456.18" y2="354.55" stroke="#000" stroke-width="1.2"/>
<text transform="translate(456.48,365.80) scale(0.91,1)" x="0" y="0" font-family='"Liberation Serif", serif' font-size="15.2" fill="#111" stroke="#111" stroke-width="0.3" text-anchor="middle">25</text>
<line x1="472.16" y1="350.8" x2="472.16" y2="353.75" stroke="#000" stroke-width="1.2"/>
<line x1="488.15" y1="350.8" x2="488.15" y2="354.55" stroke="#000" stroke-width="1.2"/>
<text transform="translate(488.45,365.80) scale(0.91,1)" x="0" y="0" font-family='"Liberation Serif", serif' font-size="15.2" fill="#111" stroke="#111" stroke-width="0.3" text-anchor="middle">30</text>
<line x1="292.35" y1="350.80" x2="296.1" y2="350.80" stroke="#000" stroke-width="1.2"/>
<text transform="translate(292.20,354.60) scale(0.91,1)" x="0" y="0" font-family='"Liberation Serif", serif' font-size="15.2" fill="#111" stroke="#111" stroke-width="0.3" text-anchor="end">0</text>
<line x1="293.15000000000003" y1="337.27" x2="296.1" y2="337.27" stroke="#000" stroke-width="1.2"/>
<line x1="292.35" y1="323.74" x2="296.1" y2="323.74" stroke="#000" stroke-width="1.2"/>
<text transform="translate(292.20,327.54) scale(0.91,1)" x="0" y="0" font-family='"Liberation Serif", serif' font-size="15.2" fill="#111" stroke="#111" stroke-width="0.3" text-anchor="end">1k</text>
<line x1="293.15000000000003" y1="310.21" x2="296.1" y2="310.21" stroke="#000" stroke-width="1.2"/>
<line x1="292.35" y1="296.68" x2="296.1" y2="296.68" stroke="#000" stroke-width="1.2"/>
<text transform="translate(292.20,300.48) scale(0.91,1)" x="0" y="0" font-family='"Liberation Serif", serif' font-size="15.2" fill="#111" stroke="#111" stroke-width="0.3" text-anchor="end">2k</text>
<line x1="293.15000000000003" y1="283.15" x2="296.1" y2="283.15" stroke="#000" stroke-width="1.2"/>
<line x1="292.35" y1="269.62" x2="296.1" y2="269.62" stroke="#000" stroke-width="1.2"/>
<text transform="translate(292.20,273.42) scale(0.91,1)" x="0" y="0" font-family='"Liberation Serif", serif' font-size="15.2" fill="#111" stroke="#111" stroke-width="0.3" text-anchor="end">3k</text>
<line x1="293.15000000000003" y1="256.09" x2="296.1" y2="256.09" stroke="#000" stroke-width="1.2"/>
<line x1="292.35" y1="242.56" x2="296.1" y2="242.56" stroke="#000" stroke-width="1.2"/>
<text transform="translate(292.20,246.36) scale(0.91,1)" x="0" y="0" font-family='"Liberation Serif", serif' font-size="15.2" fill="#111" stroke="#111" stroke-width="0.3" text-anchor="end">4k</text>
<line x1="293.15000000000003" y1="229.03" x2="296.1" y2="229.03" stroke="#000" stroke-width="1.2"/>
<line x1="292.35" y1="215.50" x2="296.1" y2="215.50" stroke="#000" stroke-width="1.2"/>
<text transform="translate(292.20,219.30) scale(0.91,1)" x="0" y="0" font-family='"Liberation Serif", serif' font-size="15.2" fill="#111" stroke="#111" stroke-width="0.3" text-anchor="end">5k</text>
<text x="303" y="221.4" font-family='"Liberation Serif", serif' font-size="21" font-weight="bold" fill="#000" text-anchor="start" >d</text>
<text x="356.9" y="381.6" font-family='"Liberation Sans", sans-serif' font-size="16.5" font-weight="bold" fill="#000" textLength="75.5" lengthAdjust="spacingAndGlyphs">Time (min)</text>
<text transform="translate(268.4,362.5) rotate(-90)" x="0" y="0" font-family='"Liberation Sans", sans-serif' font-size="16.5" font-weight="bold" fill="#000" textLength="156.5" lengthAdjust="spacingAndGlyphs">Fluorescence intensity</text>
<path d="M296.50,336.00 297.49,335.85 298.48,335.71 299.47,335.56 300.46,335.41 301.45,335.26 302.44,335.11 303.43,334.94 304.41,334.75 305.38,334.52 306.35,334.29 307.32,334.04 308.29,333.78 309.24,333.48 310.15,333.10 311.01,332.62 311.79,332.03 312.48,331.33 313.07,330.54 313.56,329.69 313.97,328.78 314.34,327.86 314.67,326.91 314.97,325.96 315.25,325.00 315.52,324.04 315.79,323.07 316.05,322.11 316.32,321.14 316.58,320.17 316.84,319.21 317.09,318.24 317.34,317.27 317.60,316.30 317.85,315.33 318.09,314.36 318.31,313.38 318.52,312.41 318.71,311.42 318.91,310.44 319.11,309.46 319.30,308.48 319.50,307.50 319.70,306.52 319.89,305.53 320.09,304.55 320.29,303.57 320.48,302.59 320.68,301.61 320.87,300.63 321.07,299.65 321.27,298.66 321.46,297.68 321.66,296.70 321.86,295.72 322.05,294.74 322.25,293.76 322.45,292.77 322.64,291.79 322.83,290.81 323.01,289.83 323.18,288.84 323.34,287.85 323.50,286.86 323.65,285.87 323.81,284.88 323.96,283.90 324.12,282.91 324.28,281.92 324.43,280.93 324.59,279.94 324.74,278.95 324.90,277.96 325.06,276.97 325.21,275.98 325.37,275.00 325.53,274.01 325.68,273.02 325.84,272.03 325.99,271.04 326.14,270.05 326.29,269.06 326.43,268.07 326.58,267.08 326.73,266.09 326.87,265.10 327.02,264.11 327.17,263.12 327.31,262.13 327.46,261.14 327.60,260.15 327.75,259.16 327.90,258.17 328.04,257.18 328.19,256.19 328.34,255.20 328.48,254.21 328.63,253.22 328.78,252.23 328.92,251.24 329.07,250.24 329.22,249.26 329.38,248.27 329.56,247.28 329.76,246.30 329.97,245.32 330.17,244.34 330.38,243.36 330.59,242.39 330.80,241.41 331.00,240.43 331.20,239.45 331.40,238.46 331.59,237.48 331.78,236.50 331.97,235.52 332.16,234.53 332.35,233.55 332.54,232.57 332.73,231.58 332.91,230.60 333.10,229.62 333.28,228.63 333.46,227.65 333.63,226.66 333.80,225.67 333.97,224.69 334.14,223.70 334.30,222.71 334.47,221.73 334.64,220.74 334.81,219.75 334.98,218.77 335.15,217.78 335.32,216.79 335.40,216.30 488.00,216.30" fill="none" stroke="#000" stroke-width="1.8" stroke-linejoin="round" />
<path d="M296.50,341.20 297.50,341.20 298.50,341.19 299.50,341.19 300.50,341.19 301.50,341.18 302.51,341.18 303.51,341.17 304.51,341.17 305.51,341.17 306.51,341.16 307.51,341.16 308.51,341.16 309.51,341.15 310.51,341.15 311.51,341.14 312.51,341.14 313.52,341.14 314.52,341.13 315.52,341.13 316.52,341.13 317.52,341.12 318.52,341.12 319.52,341.11 320.52,341.11 321.52,341.11 322.52,341.10 323.52,341.10 324.52,341.10 325.53,341.09 326.53,341.09 327.53,341.08 328.53,341.08 329.53,341.08 330.53,341.07 331.53,341.07 332.53,341.07 333.53,341.06 334.53,341.06 335.53,341.05 336.54,341.05 337.54,341.05 338.54,341.04 339.54,341.04 340.54,341.04 341.54,341.03 342.54,341.03 343.54,341.02 344.54,341.02 345.54,341.02 346.54,341.01 347.55,341.00 348.55,340.99 349.55,340.98 350.55,340.95 351.55,340.91 352.55,340.87 353.55,340.83 354.55,340.78 355.55,340.73 356.55,340.69 357.55,340.64 358.55,340.59 359.55,340.54 360.55,340.49 361.54,340.45 362.54,340.40 363.54,340.35 364.54,340.30 365.54,340.25 366.54,340.21 367.54,340.16 368.54,340.11 369.54,340.06 370.54,340.01 371.54,339.97 372.54,339.92 373.54,339.86 374.54,339.81 375.54,339.75 376.54,339.69 377.54,339.63 378.54,339.56 379.54,339.49 380.53,339.43 381.53,339.36 382.53,339.29 383.53,339.23 384.53,339.16 385.53,339.08 386.52,339.00 387.52,338.92 388.52,338.83 389.51,338.73 390.51,338.64 391.51,338.54 392.50,338.44 393.50,338.33 394.49,338.23 395.49,338.13 396.49,338.03 397.48,337.93 398.48,337.83 399.47,337.72 400.47,337.62 401.46,337.51 402.46,337.41 403.45,337.30 404.45,337.19 405.44,337.09 406.44,336.98 407.43,336.87 408.43,336.77 409.42,336.66 410.42,336.55 411.41,336.44 412.41,336.33 413.40,336.22 414.40,336.11 415.39,336.00 416.39,335.88 417.38,335.77 418.38,335.66 419.37,335.55 420.36,335.43 421.36,335.30 422.35,335.16 423.34,335.01 424.32,334.85 425.31,334.67 426.29,334.49 427.28,334.31 428.26,334.12 429.24,333.93 430.23,333.74 431.21,333.55 432.19,333.35 433.17,333.15 434.15,332.95 435.13,332.75 436.11,332.56 437.10,332.38 438.08,332.21 439.07,332.06 440.06,331.94 441.06,331.84 442.05,331.76 443.05,331.68 444.05,331.60 445.05,331.52 446.04,331.45 447.04,331.37 448.04,331.30 449.04,331.22 450.04,331.15 451.03,331.08 452.03,331.01 453.03,330.94 454.03,330.87 455.03,330.80 456.03,330.74 457.03,330.67 458.02,330.60 459.02,330.53 460.02,330.47 461.02,330.40 462.02,330.33 463.02,330.27 464.02,330.21 465.02,330.14 466.01,330.08 467.01,330.01 468.01,329.95 469.01,329.89 470.01,329.83 471.01,329.76 472.01,329.70 473.01,329.63 474.01,329.57 475.00,329.50 476.00,329.43 477.00,329.37 478.00,329.30" fill="none" stroke="#e08c46" stroke-width="1.9" stroke-dasharray="4.0,2.3" stroke-dashoffset="4.86" stroke-linejoin="round" />
<path d="M296.50,340.80 297.50,340.79 298.50,340.79 299.50,340.78 300.51,340.77 301.51,340.77 302.51,340.76 303.51,340.76 304.51,340.75 305.51,340.74 306.52,340.74 307.52,340.73 308.52,340.72 309.52,340.72 310.52,340.71 311.52,340.70 312.53,340.70 313.53,340.69 314.53,340.68 315.53,340.68 316.53,340.67 317.53,340.67 318.53,340.66 319.54,340.65 320.54,340.65 321.54,340.64 322.54,340.63 323.54,340.63 324.54,340.62 325.55,340.61 326.55,340.59 327.55,340.57 328.55,340.54 329.55,340.51 330.55,340.47 331.55,340.43 332.55,340.38 333.55,340.34 334.55,340.29 335.55,340.25 336.55,340.20 337.56,340.16 338.56,340.11 339.56,340.07 340.56,340.02 341.56,339.98 342.56,339.93 343.56,339.89 344.56,339.84 345.56,339.80 346.56,339.75 347.56,339.71 348.56,339.65 349.56,339.60 350.56,339.54 351.56,339.47 352.56,339.39 353.56,339.31 354.56,339.24 355.55,339.16 356.55,339.08 357.55,339.00 358.55,338.92 359.55,338.84 360.55,338.76 361.54,338.68 362.54,338.60 363.54,338.52 364.54,338.44 365.54,338.36 366.54,338.28 367.53,338.20 368.53,338.12 369.53,338.04 370.53,337.96 371.53,337.88 372.53,337.80 373.53,337.72 374.52,337.65 375.52,337.57 376.52,337.50 377.52,337.43 378.52,337.36 379.52,337.30 380.52,337.23 381.52,337.16 382.52,337.09 383.52,337.03 384.52,336.96 385.52,336.90 386.52,336.84 387.52,336.79 388.52,336.74 389.52,336.69 390.52,336.65 391.52,336.61 392.52,336.56 393.52,336.52 394.52,336.48 395.52,336.44 396.52,336.40 397.52,336.36 398.52,336.32 399.52,336.29 400.53,336.26 401.53,336.23 402.53,336.21 403.53,336.18 404.53,336.15 405.53,336.13 406.53,336.10 407.53,336.08 408.54,336.04 409.54,336.01 410.54,335.96 411.54,335.91 412.54,335.84 413.53,335.77 414.53,335.70 415.53,335.63 416.53,335.55 417.53,335.48 418.53,335.40 419.53,335.32 420.52,335.24 421.52,335.14 422.52,335.04 423.51,334.92 424.50,334.78 425.49,334.64 426.48,334.49 427.47,334.34 428.46,334.19 429.45,334.03 430.44,333.88 431.43,333.72 432.42,333.55 433.40,333.36 434.38,333.16 435.36,332.94 436.33,332.71 437.30,332.47 438.28,332.24 439.25,332.00 440.22,331.77 441.20,331.53 442.17,331.30 443.15,331.07 444.12,330.84 445.10,330.61 446.07,330.37 447.05,330.14 448.02,329.91 449.00,329.69 449.97,329.46 450.95,329.24 451.93,329.03 452.91,328.82 453.89,328.61 454.87,328.40 455.85,328.20 456.83,327.99 457.81,327.79 458.79,327.58 459.77,327.38 460.75,327.18 461.73,326.99 462.72,326.81 463.70,326.64 464.69,326.49 465.68,326.33 466.67,326.19 467.66,326.04 468.66,325.89 469.65,325.75 470.64,325.60 471.63,325.46 472.62,325.32 473.61,325.18 474.60,325.04 475.60,324.91 476.59,324.77 477.58,324.63 478.57,324.50 479.57,324.36 480.56,324.22 481.55,324.09 482.54,323.95 483.53,323.81 484.53,323.68 485.52,323.54 486.51,323.40 487.50,323.27 488.00,323.20" fill="none" stroke="#000" stroke-width="1.9" stroke-dasharray="4.0,2.3" stroke-dashoffset="4.79" stroke-linejoin="round" />
<path d="M296.50,340.80 297.50,340.80 298.50,340.80 299.50,340.80 300.50,340.80 301.50,340.80 302.50,340.80 303.50,340.80 304.50,340.80 305.50,340.80 306.50,340.80 307.51,340.80 308.51,340.80 309.51,340.80 310.51,340.80 311.51,340.80 312.51,340.80 313.51,340.80 314.51,340.80 315.51,340.80 316.51,340.80 317.51,340.80 318.51,340.80 319.51,340.80 320.51,340.80 321.51,340.80 322.51,340.80 323.51,340.80 324.51,340.80 325.51,340.79 326.51,340.77 327.51,340.75 328.51,340.70 329.51,340.65 330.51,340.58 331.51,340.51 332.50,340.43 333.50,340.36 334.50,340.28 335.50,340.21 336.49,340.13 337.49,340.06 338.49,339.98 339.49,339.90 340.48,339.83 341.48,339.75 342.48,339.67 343.48,339.60 344.47,339.51 345.47,339.43 346.47,339.35 347.47,339.27 348.46,339.18 349.46,339.10 350.46,339.02 351.45,338.93 352.45,338.85 353.45,338.76 354.44,338.67 355.44,338.57 356.43,338.47 357.43,338.37 358.42,338.26 359.42,338.15 360.41,338.04 361.41,337.93 362.40,337.81 363.40,337.70 364.39,337.59 365.38,337.48 366.38,337.37 367.37,337.26 368.37,337.14 369.36,337.03 370.36,336.92 371.35,336.81 372.34,336.70 373.34,336.59 374.33,336.49 375.33,336.40 376.33,336.31 377.32,336.23 378.32,336.15 379.32,336.07 380.32,336.00 381.31,335.92 382.31,335.85 383.31,335.77 384.31,335.70 385.30,335.62 386.30,335.55 387.30,335.47 388.30,335.39 389.29,335.32 390.29,335.24 391.29,335.16 392.29,335.08 393.28,334.98 394.27,334.87 395.26,334.73 396.25,334.56 397.23,334.38 398.21,334.18 399.19,333.98 400.17,333.77 401.15,333.57 402.13,333.36 403.10,333.16 404.08,332.95 405.06,332.74 406.04,332.54 407.02,332.33 408.00,332.12 408.98,331.91 409.95,331.69 410.93,331.48 411.91,331.26 412.88,331.04 413.85,330.80 414.81,330.54 415.77,330.25 416.72,329.94 417.66,329.61 418.60,329.27 419.55,328.93 420.49,328.59 421.43,328.25 422.37,327.91 423.31,327.59 424.26,327.26 425.21,326.94 426.16,326.63 427.11,326.31 428.06,326.00 429.01,325.68 429.95,325.36 430.89,325.02 431.83,324.68 432.77,324.33 433.71,323.97 434.64,323.61 435.57,323.25 436.50,322.88 437.43,322.50 438.35,322.11 439.26,321.70 440.16,321.28 441.06,320.84 441.96,320.39 442.85,319.95 443.75,319.50 444.65,319.06 445.55,318.63 446.45,318.21 447.36,317.79 448.28,317.38 449.19,316.97 450.10,316.56 451.02,316.15 451.93,315.75 452.84,315.34 453.75,314.93 454.67,314.52 455.57,314.09 456.47,313.66 457.36,313.21 458.24,312.74 459.11,312.24 459.98,311.74 460.84,311.23 461.69,310.71 462.55,310.20 463.41,309.68 464.26,309.16 465.12,308.65 465.98,308.13 466.83,307.61 467.69,307.10 468.55,306.58 469.41,306.07 470.27,305.57 471.14,305.07 472.02,304.59 472.90,304.13 473.79,303.67 474.69,303.23 475.59,302.78 476.48,302.34 477.38,301.89 478.27,301.45 479.17,301.00 480.06,300.54 480.94,300.08 481.83,299.61 482.71,299.14 483.59,298.67 484.47,298.19 485.36,297.72 486.24,297.25 487.12,296.77 488.00,296.30" fill="none" stroke="#1212cc" stroke-width="1.9" stroke-dasharray="4.0,2.3" stroke-dashoffset="4.68" stroke-linejoin="round" />
<path d="M296.50,339.30 297.50,339.21 298.49,339.12 299.49,339.03 300.49,338.94 301.49,338.85 302.48,338.76 303.48,338.67 304.48,338.58 305.48,338.49 306.47,338.40 307.47,338.31 308.47,338.22 309.47,338.13 310.46,338.04 311.46,337.95 312.46,337.86 313.46,337.77 314.45,337.68 315.45,337.59 316.45,337.50 317.44,337.41 318.44,337.33 319.44,337.25 320.44,337.17 321.44,337.09 322.44,337.02 323.43,336.95 324.43,336.88 325.43,336.81 326.43,336.74 327.43,336.67 328.43,336.60 329.43,336.53 330.43,336.46 331.43,336.39 332.43,336.32 333.42,336.25 334.42,336.18 335.42,336.12 336.42,336.05 337.42,335.99 338.42,335.93 339.42,335.87 340.42,335.81 341.42,335.75 342.42,335.69 343.42,335.63 344.42,335.57 345.42,335.50 346.42,335.44 347.42,335.38 348.42,335.32 349.42,335.26 350.42,335.20 351.42,335.14 352.42,335.08 353.41,335.02 354.41,334.96 355.41,334.91 356.41,334.85 357.41,334.80 358.41,334.75 359.41,334.70 360.41,334.64 361.41,334.59 362.41,334.54 363.41,334.49 364.41,334.44 365.41,334.39 366.41,334.34 367.41,334.29 368.42,334.24 369.42,334.18 370.42,334.13 371.42,334.08 372.42,334.03 373.42,333.98 374.42,333.93 375.42,333.88 376.42,333.83 377.42,333.78 378.42,333.73 379.42,333.68 380.42,333.63 381.42,333.58 382.42,333.53 383.42,333.48 384.42,333.43 385.42,333.38 386.42,333.33 387.42,333.28 388.42,333.24 389.42,333.19 390.42,333.15 391.42,333.11 392.42,333.07 393.42,333.03 394.42,332.98 395.42,332.94 396.42,332.89 397.42,332.84 398.42,332.78 399.42,332.71 400.42,332.62 401.41,332.53 402.41,332.43 403.41,332.33 404.40,332.23 405.40,332.13 406.40,332.03 407.39,331.93 408.39,331.83 409.38,331.72 410.38,331.62 411.38,331.52 412.37,331.42 413.37,331.32 414.37,331.22 415.36,331.12 416.36,331.02 417.35,330.92 418.35,330.82 419.35,330.72 420.34,330.62 421.34,330.53 422.34,330.44 423.34,330.35 424.33,330.27 425.33,330.20 426.33,330.12 427.33,330.05 428.33,329.98 429.33,329.91 430.33,329.83 431.32,329.76 432.32,329.68 433.32,329.60 434.32,329.52 435.32,329.43 436.31,329.33 437.31,329.22 438.30,329.11 439.29,328.97 440.28,328.83 441.27,328.67 442.26,328.51 443.25,328.35 444.24,328.18 445.22,328.01 446.21,327.84 447.20,327.68 448.19,327.51 449.17,327.34 450.16,327.17 451.14,326.99 452.13,326.81 453.12,326.63 454.10,326.45 455.08,326.27 456.07,326.09 457.05,325.91 458.04,325.72 459.02,325.54 460.01,325.36 460.99,325.18 461.98,324.99 462.96,324.81 463.95,324.63 464.93,324.44 465.91,324.25 466.90,324.07 467.88,323.88 468.87,323.70 469.85,323.51 470.83,323.32 471.82,323.13 472.80,322.94 473.78,322.75 474.76,322.55 475.75,322.35 476.73,322.15 477.71,321.94 478.69,321.74 479.67,321.54 480.65,321.33 481.63,321.13 482.61,320.92 483.59,320.72 484.57,320.51 485.55,320.31 486.53,320.11 487.51,319.90 488.00,319.80" fill="none" stroke="#dd28e6" stroke-width="1.9" stroke-dasharray="4.0,2.3" stroke-dashoffset="4.70" stroke-linejoin="round" />
<text x="469.8" y="228.8" font-family='"Liberation Serif", serif' font-size="14.5" font-weight="normal" fill="#111" stroke="#111" stroke-width="0.15" text-anchor="start" >1</text>
<text x="446.4" y="300.6" font-family='"Liberation Serif", serif' font-size="14.5" font-weight="normal" fill="#2424cc" stroke="#2424cc" stroke-width="0.15" text-anchor="start" >2-Te</text>
<text x="469.4" y="315.4" font-family='"Liberation Serif", serif' font-size="14.5" font-weight="normal" fill="#e030e0" stroke="#e030e0" stroke-width="0.15" text-anchor="start" >3-Te</text>
<text x="469.4" y="337.3" font-family='"Liberation Serif", serif' font-size="14.5" font-weight="normal" fill="#111" stroke="#111" stroke-width="0.15" text-anchor="start" >4-Te</text>
<text x="437.3" y="344.4" font-family='"Liberation Serif", serif' font-size="14.5" font-weight="normal" fill="#e0904a" stroke="#e0904a" stroke-width="0.15" text-anchor="start" >1-Te</text>
<line x1="550.9" y1="211.2" x2="550.9" y2="352.35" stroke="#000" stroke-width="1.5"/>
<line x1="550.15" y1="351.6" x2="750.4" y2="351.6" stroke="#000" stroke-width="1.5"/>
<line x1="550.90" y1="351.6" x2="550.90" y2="355.35" stroke="#000" stroke-width="1.2"/>
<text transform="translate(551.20,366.90) scale(0.91,1)" x="0" y="0" font-family='"Liberation Serif", serif' font-size="15.2" fill="#111" stroke="#111" stroke-width="0.3" text-anchor="middle">0</text>
<line x1="567.48" y1="351.6" x2="567.48" y2="354.55" stroke="#000" stroke-width="1.2"/>
<line x1="584.05" y1="351.6" x2="584.05" y2="355.35" stroke="#000" stroke-width="1.2"/>
<text transform="translate(584.35,366.90) scale(0.91,1)" x="0" y="0" font-family='"Liberation Serif", serif' font-size="15.2" fill="#111" stroke="#111" stroke-width="0.3" text-anchor="middle">5</text>
<line x1="600.62" y1="351.6" x2="600.62" y2="354.55" stroke="#000" stroke-width="1.2"/>
<line x1="617.20" y1="351.6" x2="617.20" y2="355.35" stroke="#000" stroke-width="1.2"/>
<text transform="translate(617.50,366.90) scale(0.91,1)" x="0" y="0" font-family='"Liberation Serif", serif' font-size="15.2" fill="#111" stroke="#111" stroke-width="0.3" text-anchor="middle">10</text>
<line x1="633.77" y1="351.6" x2="633.77" y2="354.55" stroke="#000" stroke-width="1.2"/>
<line x1="650.35" y1="351.6" x2="650.35" y2="355.35" stroke="#000" stroke-width="1.2"/>
<text transform="translate(650.65,366.90) scale(0.91,1)" x="0" y="0" font-family='"Liberation Serif", serif' font-size="15.2" fill="#111" stroke="#111" stroke-width="0.3" text-anchor="middle">15</text>
<line x1="666.92" y1="351.6" x2="666.92" y2="354.55" stroke="#000" stroke-width="1.2"/>
<line x1="683.50" y1="351.6" x2="683.50" y2="355.35" stroke="#000" stroke-width="1.2"/>
<text transform="translate(683.80,366.90) scale(0.91,1)" x="0" y="0" font-family='"Liberation Serif", serif' font-size="15.2" fill="#111" stroke="#111" stroke-width="0.3" text-anchor="middle">20</text>
<line x1="700.08" y1="351.6" x2="700.08" y2="354.55" stroke="#000" stroke-width="1.2"/>
<line x1="716.65" y1="351.6" x2="716.65" y2="355.35" stroke="#000" stroke-width="1.2"/>
<text transform="translate(716.95,366.90) scale(0.91,1)" x="0" y="0" font-family='"Liberation Serif", serif' font-size="15.2" fill="#111" stroke="#111" stroke-width="0.3" text-anchor="middle">25</text>
<line x1="733.22" y1="351.6" x2="733.22" y2="354.55" stroke="#000" stroke-width="1.2"/>
<line x1="749.80" y1="351.6" x2="749.80" y2="355.35" stroke="#000" stroke-width="1.2"/>
<text transform="translate(750.10,366.90) scale(0.91,1)" x="0" y="0" font-family='"Liberation Serif", serif' font-size="15.2" fill="#111" stroke="#111" stroke-width="0.3" text-anchor="middle">30</text>
<line x1="547.15" y1="351.50" x2="550.9" y2="351.50" stroke="#000" stroke-width="1.2"/>
<text transform="translate(547.00,355.30) scale(0.91,1)" x="0" y="0" font-family='"Liberation Serif", serif' font-size="15.2" fill="#111" stroke="#111" stroke-width="0.3" text-anchor="end">0</text>
<line x1="547.9499999999999" y1="338.77" x2="550.9" y2="338.77" stroke="#000" stroke-width="1.2"/>
<line x1="547.15" y1="326.04" x2="550.9" y2="326.04" stroke="#000" stroke-width="1.2"/>
<text transform="translate(547.00,329.84) scale(0.91,1)" x="0" y="0" font-family='"Liberation Serif", serif' font-size="15.2" fill="#111" stroke="#111" stroke-width="0.3" text-anchor="end">1k</text>
<line x1="547.9499999999999" y1="313.31" x2="550.9" y2="313.31" stroke="#000" stroke-width="1.2"/>
<line x1="547.15" y1="300.58" x2="550.9" y2="300.58" stroke="#000" stroke-width="1.2"/>
<text transform="translate(547.00,304.38) scale(0.91,1)" x="0" y="0" font-family='"Liberation Serif", serif' font-size="15.2" fill="#111" stroke="#111" stroke-width="0.3" text-anchor="end">2k</text>
<line x1="547.9499999999999" y1="287.85" x2="550.9" y2="287.85" stroke="#000" stroke-width="1.2"/>
<line x1="547.15" y1="275.12" x2="550.9" y2="275.12" stroke="#000" stroke-width="1.2"/>
<text transform="translate(547.00,278.92) scale(0.91,1)" x="0" y="0" font-family='"Liberation Serif", serif' font-size="15.2" fill="#111" stroke="#111" stroke-width="0.3" text-anchor="end">3k</text>
<line x1="547.9499999999999" y1="262.39" x2="550.9" y2="262.39" stroke="#000" stroke-width="1.2"/>
<line x1="547.15" y1="249.66" x2="550.9" y2="249.66" stroke="#000" stroke-width="1.2"/>
<text transform="translate(547.00,253.46) scale(0.91,1)" x="0" y="0" font-family='"Liberation Serif", serif' font-size="15.2" fill="#111" stroke="#111" stroke-width="0.3" text-anchor="end">4k</text>
<line x1="547.9499999999999" y1="236.93" x2="550.9" y2="236.93" stroke="#000" stroke-width="1.2"/>
<line x1="547.15" y1="224.20" x2="550.9" y2="224.20" stroke="#000" stroke-width="1.2"/>
<text transform="translate(547.00,228.00) scale(0.91,1)" x="0" y="0" font-family='"Liberation Serif", serif' font-size="15.2" fill="#111" stroke="#111" stroke-width="0.3" text-anchor="end">5k</text>
<line x1="547.9499999999999" y1="211.47" x2="550.9" y2="211.47" stroke="#000" stroke-width="1.2"/>
<text x="560.8" y="217.8" font-family='"Liberation Serif", serif' font-size="21" font-weight="bold" fill="#000" text-anchor="start" >e</text>
<text x="611.9" y="383.4" font-family='"Liberation Sans", sans-serif' font-size="16.5" font-weight="bold" fill="#000" textLength="80.7" lengthAdjust="spacingAndGlyphs">Time (min)</text>
<text transform="translate(523.9,362.9) rotate(-90)" x="0" y="0" font-family='"Liberation Sans", sans-serif' font-size="16.5" font-weight="bold" fill="#000" textLength="161.3" lengthAdjust="spacingAndGlyphs">Fluorescence intensity</text>
<path d="M551.60,348.20 552.60,348.20 553.60,348.20 554.60,348.20 555.61,348.20 556.61,348.20 557.61,348.20 558.61,348.20 559.61,348.20 560.61,348.20 561.61,348.20 562.62,348.20 563.62,348.20 564.62,348.20 565.62,348.20 566.62,348.20 567.62,348.19 568.62,348.17 569.61,348.12 570.59,348.02 571.54,347.84 572.45,347.55 573.32,347.15 574.14,346.64 574.91,346.05 575.64,345.39 576.31,344.67 576.93,343.91 577.51,343.10 578.06,342.27 578.59,341.42 579.11,340.57 579.63,339.71 580.14,338.85 580.65,337.99 581.15,337.12 581.65,336.25 582.16,335.39 582.66,334.52 583.16,333.66 583.67,332.79 584.17,331.93 584.68,331.06 585.18,330.20 585.70,329.34 586.22,328.48 586.75,327.63 587.29,326.79 587.84,325.96 588.40,325.13 588.96,324.30 589.53,323.48 590.11,322.66 590.70,321.85 591.30,321.05 591.91,320.25 592.52,319.46 593.14,318.67 593.76,317.89 594.38,317.11 595.02,316.33 595.67,315.58 596.34,314.83 597.03,314.11 597.72,313.39 598.43,312.68 599.14,311.97 599.85,311.27 600.58,310.58 601.31,309.89 602.05,309.22 602.79,308.55 603.55,307.90 604.32,307.26 605.10,306.64 605.90,306.05 606.72,305.47 607.55,304.91 608.39,304.37 609.24,303.83 610.09,303.31 610.95,302.81 611.83,302.32 612.71,301.84 613.60,301.38 614.49,300.94 615.40,300.52 616.32,300.13 617.24,299.75 618.18,299.40 619.12,299.07 620.07,298.75 621.03,298.45 621.99,298.18 622.95,297.91 623.92,297.66 624.89,297.41 625.86,297.16 626.83,296.91 627.80,296.67 628.77,296.43 629.75,296.19 630.72,295.96 631.70,295.75 632.68,295.55 633.66,295.35 634.64,295.15 635.63,294.96 636.61,294.77 637.59,294.58 638.58,294.39 639.56,294.20 640.54,294.02 641.53,293.84 642.51,293.66 643.50,293.48 644.49,293.31 645.47,293.14 646.46,292.96 647.45,292.79 648.43,292.62 649.42,292.44 650.40,292.26 651.39,292.08 652.37,291.90 653.36,291.70 654.34,291.51 655.32,291.32 656.30,291.12 657.28,290.92 658.27,290.73 659.25,290.53 660.23,290.33 661.21,290.14 662.19,289.94 663.18,289.75 664.16,289.55 665.14,289.36 666.12,289.17 667.11,288.98 668.09,288.80 669.08,288.61 670.06,288.43 671.05,288.24 672.03,288.06 673.01,287.88 674.00,287.69 674.98,287.51 675.97,287.32 676.95,287.14 677.94,286.95 678.92,286.77 679.90,286.58 680.89,286.39 681.87,286.20 682.85,286.01 683.83,285.81 684.82,285.62 685.80,285.42 686.78,285.22 687.76,285.03 688.74,284.83 689.72,284.63 690.70,284.41 691.68,284.19 692.65,283.94 693.61,283.67 694.57,283.39 695.52,283.09 696.48,282.78 697.43,282.48 698.38,282.17 699.34,281.86 700.29,281.56 701.24,281.25 702.20,280.94 703.15,280.63 704.10,280.32 705.05,280.01 706.00,279.70 706.95,279.38 707.89,279.04 708.83,278.69 709.77,278.33 710.70,277.96 711.62,277.59 712.55,277.21 713.48,276.83 714.41,276.46 715.34,276.08 716.26,275.70 717.19,275.32 718.12,274.94 719.04,274.56 719.96,274.16 720.88,273.76 721.78,273.34 722.69,272.91 723.59,272.47 724.49,272.02 725.38,271.58 726.28,271.14 727.18,270.69 728.07,270.24 728.96,269.79 729.85,269.32 730.72,268.84 731.58,268.33 732.43,267.80 733.27,267.25 734.10,266.70 734.93,266.14 735.76,265.58 736.59,265.02 737.41,264.45 738.23,263.87 739.04,263.27 739.83,262.67 740.62,262.06 741.41,261.44 742.19,260.81 742.97,260.18 743.74,259.54 744.49,258.88 745.21,258.20 745.92,257.49 746.60,256.76 747.28,256.02 747.94,255.28 748.61,254.53 749.27,253.78 749.60,253.40" fill="none" stroke="#000" stroke-width="1.8" stroke-linejoin="round" />
<path d="M551.60,349.40 552.60,349.40 553.60,349.40 554.60,349.40 555.60,349.40 556.61,349.40 557.61,349.40 558.61,349.40 559.61,349.40 560.61,349.40 561.61,349.40 562.61,349.40 563.61,349.40 564.61,349.40 565.62,349.40 566.62,349.40 567.62,349.40 568.62,349.40 569.62,349.40 570.62,349.40 571.62,349.40 572.62,349.40 573.62,349.40 574.63,349.40 575.63,349.40 576.63,349.40 577.63,349.40 578.63,349.40 579.63,349.40 580.63,349.40 581.63,349.40 582.63,349.40 583.63,349.40 584.63,349.38 585.63,349.32 586.61,349.19 587.58,348.98 588.50,348.67 589.33,348.21 590.06,347.59 590.72,346.86 591.36,346.09 592.00,345.32 592.64,344.54 593.27,343.77 593.90,342.99 594.52,342.21 595.14,341.42 595.74,340.62 596.34,339.82 596.95,339.02 597.55,338.22 598.15,337.42 598.76,336.63 599.38,335.84 600.01,335.07 600.67,334.31 601.33,333.56 602.00,332.81 602.66,332.07 603.34,331.33 604.02,330.60 604.72,329.88 605.43,329.17 606.14,328.46 606.85,327.76 607.56,327.06 608.29,326.37 609.02,325.69 609.76,325.01 610.49,324.33 611.24,323.66 611.98,323.00 612.73,322.33 613.49,321.67 614.23,321.00 614.97,320.33 615.70,319.64 616.42,318.95 617.14,318.26 617.87,317.56 618.59,316.87 619.33,316.20 620.09,315.55 620.87,314.93 621.67,314.32 622.47,313.72 623.27,313.12 624.08,312.53 624.89,311.95 625.73,311.41 626.59,310.91 627.47,310.42 628.35,309.94 629.23,309.47 630.11,309.00 631.01,308.55 631.92,308.14 632.84,307.75 633.76,307.36 634.69,306.99 635.62,306.62 636.56,306.27 637.50,305.95 638.46,305.65 639.42,305.36 640.38,305.07 641.34,304.78 642.29,304.49 643.25,304.19 644.20,303.89 645.16,303.59 646.11,303.29 647.07,302.98 648.02,302.68 648.97,302.37 649.93,302.07 650.88,301.78 651.84,301.49 652.81,301.22 653.77,300.96 654.74,300.69 655.71,300.43 656.67,300.17 657.64,299.91 658.60,299.64 659.57,299.38 660.54,299.12 661.50,298.86 662.47,298.60 663.43,298.33 664.40,298.07 665.37,297.82 666.34,297.57 667.31,297.32 668.28,297.08 669.25,296.83 670.22,296.59 671.19,296.34 672.16,296.10 673.13,295.85 674.10,295.61 675.07,295.37 676.05,295.12 677.02,294.88 677.99,294.63 678.96,294.39 679.93,294.15 680.90,293.91 681.88,293.67 682.85,293.44 683.82,293.21 684.80,292.98 685.77,292.76 686.75,292.53 687.72,292.30 688.70,292.07 689.67,291.84 690.65,291.61 691.62,291.39 692.60,291.17 693.58,290.97 694.56,290.77 695.54,290.57 696.52,290.38 697.50,290.18 698.49,289.98 699.47,289.79 700.45,289.59 701.43,289.39 702.41,289.20 703.39,289.00 704.38,288.80 705.36,288.61 706.34,288.41 707.32,288.22 708.31,288.04 709.29,287.86 710.28,287.69 711.27,287.52 712.25,287.35 713.24,287.18 714.23,287.01 715.21,286.84 716.20,286.67 717.18,286.50 718.17,286.33 719.16,286.16 720.14,285.98 721.12,285.79 722.10,285.58 723.08,285.37 724.06,285.15 725.03,284.93 726.01,284.71 726.50,284.60 727.29,283.97 728.09,283.33 728.88,282.70 729.68,282.07 730.49,281.47 731.33,280.91 732.21,280.40 733.10,279.93 734.01,279.47 734.92,279.03 735.84,278.64 736.80,278.32 737.78,278.09 738.77,277.88 739.77,277.69 740.77,277.49 741.76,277.30 742.76,277.09 743.74,276.87 744.73,276.61 745.70,276.34 746.68,276.06 747.65,275.77 748.63,275.49 749.60,275.20" fill="none" stroke="#d81e24" stroke-width="1.6" stroke-linejoin="round" />
<path d="M551.60,347.80 552.60,347.78 553.60,347.75 554.61,347.73 555.61,347.70 556.61,347.68 557.61,347.65 558.61,347.63 559.62,347.60 560.62,347.58 561.62,347.55 562.62,347.53 563.62,347.50 564.63,347.48 565.63,347.45 566.63,347.43 567.63,347.40 568.63,347.38 569.64,347.35 570.64,347.33 571.64,347.30 572.64,347.28 573.64,347.25 574.65,347.23 575.65,347.20 576.65,347.18 577.65,347.15 578.65,347.13 579.66,347.10 580.66,347.08 581.66,347.05 582.66,347.03 583.66,347.01 584.67,346.98 585.67,346.96 586.67,346.93 587.67,346.91 588.67,346.88 589.68,346.86 590.68,346.83 591.68,346.81 592.68,346.78 593.68,346.76 594.69,346.73 595.69,346.71 596.69,346.68 597.69,346.66 598.69,346.63 599.70,346.61 600.70,346.59 601.70,346.56 602.70,346.54 603.70,346.52 604.71,346.49 605.71,346.47 606.71,346.45 607.71,346.42 608.71,346.40 609.72,346.38 610.72,346.36 611.72,346.33 612.72,346.31 613.72,346.29 614.73,346.26 615.73,346.24 616.73,346.22 617.73,346.19 618.73,346.17 619.74,346.15 620.74,346.13 621.74,346.10 622.74,346.08 623.74,346.06 624.75,346.03 625.75,346.01 626.75,345.99 627.75,345.97 628.75,345.94 629.76,345.92 630.76,345.90 631.76,345.87 632.76,345.85 633.76,345.83 634.77,345.81 635.77,345.78 636.77,345.76 637.77,345.74 638.77,345.71 639.78,345.69 640.78,345.67 641.78,345.65 642.78,345.62 643.78,345.60 644.79,345.58 645.79,345.55 646.79,345.53 647.79,345.51 648.79,345.48 649.80,345.46 650.80,345.44 651.80,345.42 652.80,345.39 653.81,345.37 654.81,345.35 655.81,345.32 656.81,345.30 657.81,345.28 658.82,345.26 659.82,345.23 660.82,345.21 661.82,345.19 662.82,345.16 663.83,345.14 664.83,345.12 665.83,345.10 666.83,345.07 667.83,345.05 668.84,345.03 669.84,345.01 670.84,344.98 671.84,344.96 672.84,344.94 673.85,344.92 674.85,344.90 675.85,344.88 676.85,344.86 677.85,344.84 678.86,344.82 679.86,344.80 680.86,344.78 681.86,344.76 682.86,344.74 683.87,344.72 684.87,344.69 685.87,344.67 686.87,344.65 687.88,344.63 688.88,344.61 689.88,344.59 690.88,344.57 691.88,344.55 692.89,344.53 693.89,344.51 694.89,344.49 695.89,344.47 696.89,344.45 697.90,344.43 698.90,344.41 699.90,344.39 700.90,344.37 701.90,344.35 702.91,344.32 703.91,344.30 704.91,344.28 705.91,344.26 706.91,344.24 707.92,344.22 708.92,344.20 709.92,344.18 710.92,344.16 711.93,344.14 712.93,344.12 713.93,344.10 714.93,344.08 715.93,344.06 716.94,344.04 717.94,344.02 718.94,344.00 719.94,343.98 720.94,343.95 721.95,343.93 722.95,343.91 723.95,343.89 724.95,343.87 725.95,343.85 726.96,343.83 727.96,343.81 728.96,343.79 729.96,343.77 730.96,343.75 731.97,343.73 732.97,343.71 733.97,343.69 734.97,343.67 735.98,343.65 736.98,343.63 737.98,343.61 738.98,343.58 739.98,343.56 740.99,343.54 741.99,343.52 742.99,343.50 743.99,343.48 744.99,343.46 746.00,343.44 747.00,343.42 748.00,343.40" fill="none" stroke="#b81818" stroke-width="1.8" stroke-dasharray="3.1,2.25" stroke-dashoffset="0.08" stroke-linejoin="round" />
<text x="715.9" y="257.9" font-family='"Liberation Serif", serif' font-size="14.5" font-weight="normal" fill="#111" stroke="#111" stroke-width="0.15" text-anchor="start" >1-Te</text>
<text x="729.7" y="297.0" font-family='"Liberation Serif", serif' font-size="14.5" font-weight="normal" fill="#e02424" stroke="#e02424" stroke-width="0.15" text-anchor="start" >2-Te</text>
<text x="692.4" y="337.7" font-family='"Liberation Serif", serif' font-size="14.5" font-weight="normal" fill="#111" stroke="#111" stroke-width="0.15" text-anchor="start" >1-Bc</text>
<text x="724.3" y="339.0" font-family='"Liberation Serif", serif' font-size="14.5" font-weight="normal" fill="#e02424" stroke="#e02424" stroke-width="0.15" text-anchor="start" >2-Bc</text>
</svg>
</body></html>
